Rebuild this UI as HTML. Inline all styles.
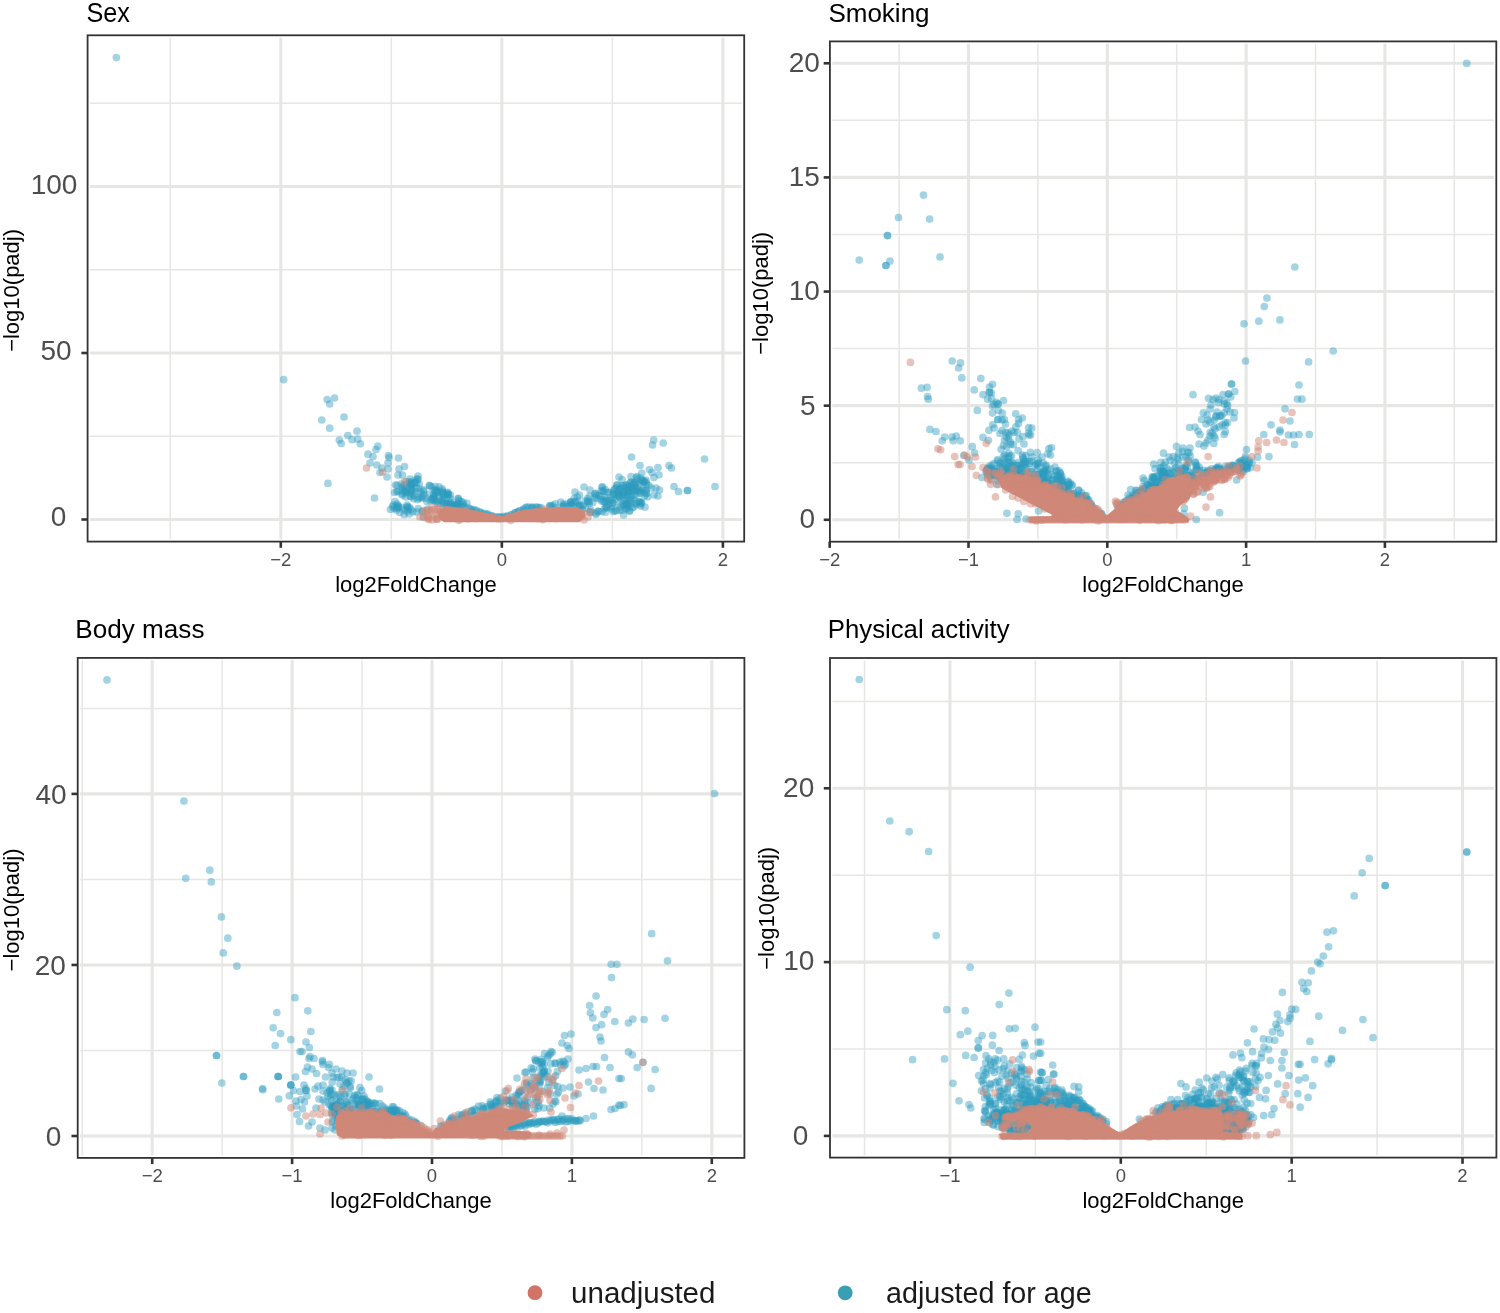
<!DOCTYPE html>
<html><head><meta charset="utf-8"><style>
html,body{margin:0;padding:0;background:#fff;}
svg{display:block;font-family:"Liberation Sans", sans-serif;will-change:transform;}
</style></head><body>
<svg width="1500" height="1313" viewBox="0 0 1500 1313">
<rect width="1500" height="1313" fill="#fff"/>
<clipPath id="cp1"><rect x="87.6" y="35.3" width="656.6" height="506.3"/></clipPath>
<clipPath id="gp1"><rect x="90.0" y="37.699999999999996" width="651.8000000000001" height="501.5"/></clipPath>
<g clip-path="url(#gp1)">
<line x1="170.27" y1="35.3" x2="170.27" y2="541.6" stroke="#e6e6e4" stroke-width="1.5"/>
<line x1="391.33" y1="35.3" x2="391.33" y2="541.6" stroke="#e6e6e4" stroke-width="1.5"/>
<line x1="612.38" y1="35.3" x2="612.38" y2="541.6" stroke="#e6e6e4" stroke-width="1.5"/>
<line x1="87.6" y1="436.25" x2="744.2" y2="436.25" stroke="#e6e6e4" stroke-width="1.5"/>
<line x1="87.6" y1="269.75" x2="744.2" y2="269.75" stroke="#e6e6e4" stroke-width="1.5"/>
<line x1="87.6" y1="103.25" x2="744.2" y2="103.25" stroke="#e6e6e4" stroke-width="1.5"/>
<line x1="280.80" y1="35.3" x2="280.80" y2="541.6" stroke="#e6e6e4" stroke-width="3.1"/>
<line x1="501.85" y1="35.3" x2="501.85" y2="541.6" stroke="#e6e6e4" stroke-width="3.1"/>
<line x1="722.90" y1="35.3" x2="722.90" y2="541.6" stroke="#e6e6e4" stroke-width="3.1"/>
<line x1="87.6" y1="519.50" x2="744.2" y2="519.50" stroke="#e6e6e4" stroke-width="3.1"/>
<line x1="87.6" y1="353.00" x2="744.2" y2="353.00" stroke="#e6e6e4" stroke-width="3.1"/>
<line x1="87.6" y1="186.50" x2="744.2" y2="186.50" stroke="#e6e6e4" stroke-width="3.1"/>
</g>
<g clip-path="url(#cp1)"><g fill="none" stroke="#2c9cbf" stroke-opacity="0.43" stroke-width="7.7" stroke-linecap="round"><path d="M429.5 494.4h0"/><path d="M433.6 495.2h0"/><path d="M409.7 492.9h0"/><path d="M442.6 501.6h0"/><path d="M403.0 486.4h0"/><path d="M444.4 496.1h0"/><path d="M410.1 484.5h0"/><path d="M398.2 491.4h0"/><path d="M434.4 496.8h0"/><path d="M433.0 497.5h0"/><path d="M429.8 485.6h0"/><path d="M458.2 498.9h0"/><path d="M419.3 484.1h0"/><path d="M417.4 479.2h0"/><path d="M466.9 503.3h0"/><path d="M402.4 487.3h0"/><path d="M404.7 484.6h0"/><path d="M437.4 490.9h0"/><path d="M405.7 497.0h0"/><path d="M404.6 490.0h0"/><path d="M411.8 485.4h0"/><path d="M411.6 489.2h0"/><path d="M411.8 485.0h0"/><path d="M417.9 479.3h0"/><path d="M402.7 495.1h0"/><path d="M414.0 495.6h0"/><path d="M423.5 491.0h0"/><path d="M409.5 481.8h0"/><path d="M463.2 502.4h0"/><path d="M414.5 482.9h0"/><path d="M413.6 498.8h0"/><path d="M401.1 484.1h0"/><path d="M437.4 503.4h0"/><path d="M397.2 485.3h0"/><path d="M409.0 488.4h0"/><path d="M447.2 495.1h0"/><path d="M431.7 499.6h0"/><path d="M401.6 493.9h0"/><path d="M450.5 504.9h0"/><path d="M450.5 498.8h0"/><path d="M454.7 505.4h0"/><path d="M422.0 498.2h0"/><path d="M462.7 504.0h0"/><path d="M426.9 501.5h0"/><path d="M442.2 488.9h0"/><path d="M439.1 495.9h0"/><path d="M450.4 495.0h0"/><path d="M447.7 492.4h0"/><path d="M418.3 498.0h0"/><path d="M411.0 482.3h0"/><path d="M420.2 497.6h0"/><path d="M410.7 490.4h0"/><path d="M455.6 505.3h0"/><path d="M439.1 486.8h0"/><path d="M406.1 492.4h0"/><path d="M457.9 503.3h0"/><path d="M416.5 482.2h0"/><path d="M429.3 485.5h0"/><path d="M411.8 489.8h0"/><path d="M442.3 492.3h0"/><path d="M448.4 494.7h0"/><path d="M442.6 490.8h0"/><path d="M442.6 497.3h0"/><path d="M455.7 506.7h0"/><path d="M396.8 491.6h0"/><path d="M416.2 487.7h0"/><path d="M447.6 493.1h0"/><path d="M441.5 500.4h0"/><path d="M405.6 491.1h0"/><path d="M423.9 494.6h0"/><path d="M461.1 501.7h0"/><path d="M449.4 502.4h0"/><path d="M443.5 499.2h0"/><path d="M435.7 501.5h0"/><path d="M402.1 490.7h0"/><path d="M436.7 500.8h0"/><path d="M406.4 481.6h0"/><path d="M434.2 499.4h0"/><path d="M458.2 498.4h0"/><path d="M412.4 493.3h0"/><path d="M417.5 499.6h0"/><path d="M443.3 493.2h0"/><path d="M419.1 488.8h0"/><path d="M458.5 504.9h0"/><path d="M435.7 492.6h0"/><path d="M437.7 492.2h0"/><path d="M435.9 489.8h0"/><path d="M415.9 491.7h0"/><path d="M405.4 490.4h0"/><path d="M456.4 504.9h0"/><path d="M431.3 486.8h0"/><path d="M410.2 496.2h0"/><path d="M410.4 484.0h0"/><path d="M422.3 496.2h0"/><path d="M405.1 492.8h0"/><path d="M414.5 483.1h0"/><path d="M435.2 490.5h0"/><path d="M423.8 489.8h0"/><path d="M411.1 496.6h0"/><path d="M443.2 493.4h0"/><path d="M450.8 502.1h0"/><path d="M415.2 480.0h0"/><path d="M425.8 498.2h0"/><path d="M446.5 505.3h0"/><path d="M433.4 500.5h0"/><path d="M433.2 498.3h0"/><path d="M410.0 479.2h0"/><path d="M436.8 493.0h0"/><path d="M409.7 483.3h0"/><path d="M430.2 500.7h0"/><path d="M420.2 491.5h0"/><path d="M434.1 490.3h0"/><path d="M447.9 503.2h0"/><path d="M412.9 511.8h0"/><path d="M392.5 506.7h0"/><path d="M404.1 514.6h0"/><path d="M422.4 510.8h0"/><path d="M416.6 511.9h0"/><path d="M398.4 507.9h0"/><path d="M406.8 507.3h0"/><path d="M397.0 507.6h0"/><path d="M397.9 505.6h0"/><path d="M409.6 507.5h0"/><path d="M418.2 508.6h0"/><path d="M424.0 517.4h0"/><path d="M407.7 506.5h0"/><path d="M422.4 512.1h0"/><path d="M397.0 504.2h0"/><path d="M408.0 509.2h0"/><path d="M427.6 509.0h0"/><path d="M410.9 509.3h0"/><path d="M401.8 507.7h0"/><path d="M409.1 513.9h0"/><path d="M396.5 509.9h0"/><path d="M399.8 512.5h0"/><path d="M393.6 505.0h0"/><path d="M407.1 511.5h0"/><path d="M394.3 508.3h0"/><path d="M631.0 482.2h0"/><path d="M641.3 502.6h0"/><path d="M629.0 486.9h0"/><path d="M635.4 484.7h0"/><path d="M644.6 495.9h0"/><path d="M594.7 493.8h0"/><path d="M618.7 490.0h0"/><path d="M624.5 491.8h0"/><path d="M590.4 512.6h0"/><path d="M627.7 504.0h0"/><path d="M598.6 495.3h0"/><path d="M641.9 479.9h0"/><path d="M611.7 508.8h0"/><path d="M618.0 491.7h0"/><path d="M646.3 489.8h0"/><path d="M637.4 488.4h0"/><path d="M643.1 489.1h0"/><path d="M613.5 490.7h0"/><path d="M631.4 487.2h0"/><path d="M646.0 482.2h0"/><path d="M614.0 494.8h0"/><path d="M582.4 508.9h0"/><path d="M619.0 494.0h0"/><path d="M634.0 499.1h0"/><path d="M627.9 486.0h0"/><path d="M602.0 501.3h0"/><path d="M605.3 489.5h0"/><path d="M622.5 503.5h0"/><path d="M620.9 488.2h0"/><path d="M603.1 491.1h0"/><path d="M596.0 514.5h0"/><path d="M601.8 511.6h0"/><path d="M627.3 488.3h0"/><path d="M600.9 499.6h0"/><path d="M628.5 489.3h0"/><path d="M640.0 504.4h0"/><path d="M585.8 508.6h0"/><path d="M619.5 489.1h0"/><path d="M642.4 481.0h0"/><path d="M631.1 497.4h0"/><path d="M612.9 511.4h0"/><path d="M606.4 506.7h0"/><path d="M589.2 501.6h0"/><path d="M638.4 501.6h0"/><path d="M619.7 497.5h0"/><path d="M632.1 490.4h0"/><path d="M594.8 497.7h0"/><path d="M616.2 494.2h0"/><path d="M589.3 503.6h0"/><path d="M634.1 489.2h0"/><path d="M625.7 491.9h0"/><path d="M628.2 506.6h0"/><path d="M585.1 501.2h0"/><path d="M592.8 502.4h0"/><path d="M635.2 504.1h0"/><path d="M616.5 510.5h0"/><path d="M640.3 478.2h0"/><path d="M608.1 492.4h0"/><path d="M641.2 490.5h0"/><path d="M619.0 495.6h0"/><path d="M612.5 494.5h0"/><path d="M611.7 499.3h0"/><path d="M609.1 492.5h0"/><path d="M595.8 512.9h0"/><path d="M642.7 482.6h0"/><path d="M622.1 493.9h0"/><path d="M611.4 506.8h0"/><path d="M606.1 507.4h0"/><path d="M607.2 500.8h0"/><path d="M632.6 482.5h0"/><path d="M646.7 493.6h0"/><path d="M619.1 496.3h0"/><path d="M632.8 495.7h0"/><path d="M625.4 503.1h0"/><path d="M627.1 488.6h0"/><path d="M640.1 493.5h0"/><path d="M590.7 509.8h0"/><path d="M642.9 480.7h0"/><path d="M641.7 502.8h0"/><path d="M597.4 498.4h0"/><path d="M644.4 481.9h0"/><path d="M625.5 485.4h0"/><path d="M635.0 491.4h0"/><path d="M608.8 500.0h0"/><path d="M636.6 503.3h0"/><path d="M611.8 500.5h0"/><path d="M607.0 507.6h0"/><path d="M640.6 506.2h0"/><path d="M601.2 490.9h0"/><path d="M626.4 484.9h0"/><path d="M627.8 503.4h0"/><path d="M596.1 495.3h0"/><path d="M589.6 496.3h0"/><path d="M618.3 496.7h0"/><path d="M633.6 506.8h0"/><path d="M629.3 500.3h0"/><path d="M636.4 477.6h0"/><path d="M633.3 484.7h0"/><path d="M603.4 491.4h0"/><path d="M615.4 499.0h0"/><path d="M620.2 488.3h0"/><path d="M604.0 501.6h0"/><path d="M645.1 490.9h0"/><path d="M623.8 492.3h0"/><path d="M606.0 499.5h0"/><path d="M635.8 490.0h0"/><path d="M637.1 479.5h0"/><path d="M620.2 506.9h0"/><path d="M612.7 502.9h0"/><path d="M627.0 495.8h0"/><path d="M639.1 501.6h0"/><path d="M635.5 483.2h0"/><path d="M598.4 511.4h0"/><path d="M632.4 507.7h0"/><path d="M595.6 493.3h0"/><path d="M632.2 491.5h0"/><path d="M623.5 500.4h0"/><path d="M605.3 512.2h0"/><path d="M626.1 504.9h0"/><path d="M630.7 500.2h0"/><path d="M590.2 511.7h0"/><path d="M645.9 480.0h0"/><path d="M587.5 498.6h0"/><path d="M612.7 503.1h0"/><path d="M587.8 501.2h0"/><path d="M625.5 508.5h0"/><path d="M639.4 490.3h0"/><path d="M618.4 504.3h0"/><path d="M625.4 499.3h0"/><path d="M627.6 493.1h0"/><path d="M619.7 510.3h0"/><path d="M626.7 508.7h0"/><path d="M598.0 511.3h0"/><path d="M630.6 502.9h0"/><path d="M608.4 504.3h0"/><path d="M624.2 505.4h0"/><path d="M601.0 496.2h0"/><path d="M629.0 494.0h0"/><path d="M629.0 491.1h0"/><path d="M579.5 495.2h0"/><path d="M604.6 508.6h0"/><path d="M621.9 485.6h0"/><path d="M605.0 497.1h0"/><path d="M613.9 492.6h0"/><path d="M616.0 488.1h0"/><path d="M646.5 484.6h0"/><path d="M604.6 501.7h0"/><path d="M638.4 491.8h0"/><path d="M623.7 485.9h0"/><path d="M582.9 505.7h0"/><path d="M615.1 511.1h0"/><path d="M635.9 487.7h0"/><path d="M587.6 502.1h0"/><path d="M622.5 510.2h0"/><path d="M540.9 507.6h0"/><path d="M571.4 504.5h0"/><path d="M580.6 506.7h0"/><path d="M570.5 502.6h0"/><path d="M573.3 502.1h0"/><path d="M577.5 501.9h0"/><path d="M570.8 501.6h0"/><path d="M560.7 502.2h0"/><path d="M579.4 506.1h0"/><path d="M563.0 506.5h0"/><path d="M577.5 497.0h0"/><path d="M555.9 507.9h0"/><path d="M552.5 505.4h0"/><path d="M550.9 506.8h0"/><path d="M575.2 501.3h0"/><path d="M563.7 506.6h0"/><path d="M574.3 498.3h0"/><path d="M563.8 505.3h0"/><path d="M571.3 505.3h0"/><path d="M566.5 504.0h0"/><path d="M579.6 504.8h0"/><path d="M573.5 507.0h0"/><path d="M563.5 504.1h0"/><path d="M555.3 503.8h0"/><path d="M570.9 502.4h0"/><path d="M578.2 505.4h0"/><path d="M569.9 505.9h0"/><path d="M550.0 505.7h0"/><path d="M531.4 508.3h0"/><path d="M549.6 506.1h0"/><path d="M440.2 503.4h0"/><path d="M443.1 504.2h0"/><path d="M444.3 503.3h0"/><path d="M447.0 504.4h0"/><path d="M448.1 504.6h0"/><path d="M450.1 505.1h0"/><path d="M451.5 504.5h0"/><path d="M454.8 505.2h0"/><path d="M455.5 506.1h0"/><path d="M458.2 505.5h0"/><path d="M460.0 506.7h0"/><path d="M461.2 506.9h0"/><path d="M463.0 506.7h0"/><path d="M464.9 506.8h0"/><path d="M468.6 508.1h0"/><path d="M470.5 508.8h0"/><path d="M471.7 509.9h0"/><path d="M473.7 509.5h0"/><path d="M475.4 510.9h0"/><path d="M476.5 510.4h0"/><path d="M479.8 512.2h0"/><path d="M480.4 512.4h0"/><path d="M482.3 513.6h0"/><path d="M484.6 513.3h0"/><path d="M487.1 514.2h0"/><path d="M487.9 514.4h0"/><path d="M490.7 515.5h0"/><path d="M492.1 515.9h0"/><path d="M493.9 517.3h0"/><path d="M495.8 517.0h0"/><path d="M497.5 517.1h0"/><path d="M499.5 516.8h0"/><path d="M501.1 517.1h0"/><path d="M503.6 517.8h0"/><path d="M504.0 516.4h0"/><path d="M507.0 516.2h0"/><path d="M507.5 516.3h0"/><path d="M511.1 514.8h0"/><path d="M511.8 514.8h0"/><path d="M514.6 513.1h0"/><path d="M515.2 512.7h0"/><path d="M517.5 512.0h0"/><path d="M518.6 511.4h0"/><path d="M519.9 510.6h0"/><path d="M523.2 509.4h0"/><path d="M523.8 509.7h0"/><path d="M525.6 507.7h0"/><path d="M526.8 507.0h0"/><path d="M529.0 507.2h0"/><path d="M532.2 507.2h0"/><path d="M532.9 507.7h0"/><path d="M536.0 507.2h0"/><path d="M537.6 507.3h0"/><path d="M539.2 507.7h0"/><path d="M116.4 57.6h0"/><path d="M283.7 379.7h0"/><path d="M327.2 399.5h0"/><path d="M334.5 398.0h0"/><path d="M329.7 404.0h0"/><path d="M344.0 417.0h0"/><path d="M321.8 420.0h0"/><path d="M329.7 428.2h0"/><path d="M357.0 431.2h0"/><path d="M347.8 435.5h0"/><path d="M339.3 440.0h0"/><path d="M341.2 443.5h0"/><path d="M352.0 439.7h0"/><path d="M357.7 439.2h0"/><path d="M360.3 443.8h0"/><path d="M377.8 446.2h0"/><path d="M376.0 449.5h0"/><path d="M368.0 454.2h0"/><path d="M373.0 456.5h0"/><path d="M388.5 455.5h0"/><path d="M389.0 457.5h0"/><path d="M398.5 458.0h0"/><path d="M370.0 463.0h0"/><path d="M376.8 465.0h0"/><path d="M388.0 463.0h0"/><path d="M404.5 466.5h0"/><path d="M399.0 469.0h0"/><path d="M382.0 468.0h0"/><path d="M388.0 469.0h0"/><path d="M380.0 472.5h0"/><path d="M387.0 477.0h0"/><path d="M398.0 475.0h0"/><path d="M402.5 475.0h0"/><path d="M418.0 476.0h0"/><path d="M395.5 485.0h0"/><path d="M394.5 492.5h0"/><path d="M374.5 498.0h0"/><path d="M395.0 501.5h0"/><path d="M398.5 506.5h0"/><path d="M390.5 509.5h0"/><path d="M404.0 510.0h0"/><path d="M407.0 505.0h0"/><path d="M435.0 486.5h0"/><path d="M459.0 500.5h0"/><path d="M448.0 494.5h0"/><path d="M327.9 483.4h0"/><path d="M653.7 440.0h0"/><path d="M652.5 445.0h0"/><path d="M663.2 443.0h0"/><path d="M631.5 457.0h0"/><path d="M704.5 459.0h0"/><path d="M640.0 465.5h0"/><path d="M658.0 467.5h0"/><path d="M649.5 469.5h0"/><path d="M669.0 465.5h0"/><path d="M671.5 468.0h0"/><path d="M641.8 473.0h0"/><path d="M659.0 474.8h0"/><path d="M654.0 477.5h0"/><path d="M652.0 472.5h0"/><path d="M631.0 476.5h0"/><path d="M637.0 476.5h0"/><path d="M622.0 479.5h0"/><path d="M617.0 485.0h0"/><path d="M615.0 488.5h0"/><path d="M630.0 483.0h0"/><path d="M634.5 482.5h0"/><path d="M640.5 483.0h0"/><path d="M644.0 481.5h0"/><path d="M649.0 485.5h0"/><path d="M656.0 488.0h0"/><path d="M659.5 490.0h0"/><path d="M651.5 488.0h0"/><path d="M634.0 489.0h0"/><path d="M635.0 495.0h0"/><path d="M640.0 493.0h0"/><path d="M646.0 493.0h0"/><path d="M647.5 497.0h0"/><path d="M654.0 495.0h0"/><path d="M658.0 496.0h0"/><path d="M674.0 486.5h0"/><path d="M678.5 491.5h0"/><path d="M687.5 490.5h0"/><path d="M687.5 490.5h0"/><path d="M715.0 486.5h0"/><path d="M640.5 502.5h0"/><path d="M645.0 507.0h0"/><path d="M629.5 511.0h0"/><path d="M629.5 511.0h0"/><path d="M623.5 515.0h0"/><path d="M602.5 487.0h0"/><path d="M626.0 505.0h0"/><path d="M623.0 496.0h0"/><path d="M625.0 495.0h0"/><path d="M575.0 492.0h0"/><path d="M584.0 487.0h0"/><path d="M590.0 490.0h0"/><path d="M602.0 487.0h0"/><path d="M617.0 485.0h0"/><path d="M619.0 477.0h0"/></g><path d="M437.1 511.5 L438.9 519.3 L444.2 522.2 L579.6 522.2 L585.0 517.5 L585.0 511.6 L577.7 507.2 L560.0 506.8 L540.1 508.0 L527.2 509.5 L513.3 512.5 L502.3 516.0 L502.2 516.0 L502.1 516.0 L502.0 516.0 L501.9 516.0 L501.8 516.0 L492.8 514.5 L492.8 514.5 L479.8 511.5 L459.8 508.0 L446.2 506.0 L437.1 511.5Z" fill="#cf8878" fill-opacity="1.0"/><g fill="none" stroke="#cf8878" stroke-opacity="0.5" stroke-width="7.7" stroke-linecap="round"><path d="M476.3 516.6h0"/><path d="M537.8 518.7h0"/><path d="M465.7 510.6h0"/><path d="M460.1 510.5h0"/><path d="M545.0 509.3h0"/><path d="M560.0 515.6h0"/><path d="M440.9 511.2h0"/><path d="M460.1 519.0h0"/><path d="M556.0 518.2h0"/><path d="M558.4 517.4h0"/><path d="M576.2 518.0h0"/><path d="M476.0 518.7h0"/><path d="M509.3 517.5h0"/><path d="M520.4 513.2h0"/><path d="M557.4 518.1h0"/><path d="M581.4 516.7h0"/><path d="M519.0 517.4h0"/><path d="M458.3 516.5h0"/><path d="M468.1 514.4h0"/><path d="M475.5 513.6h0"/><path d="M526.4 512.8h0"/><path d="M457.8 514.0h0"/><path d="M467.0 512.4h0"/><path d="M449.4 516.1h0"/><path d="M576.8 512.7h0"/><path d="M542.8 519.8h0"/><path d="M445.1 509.5h0"/><path d="M555.4 518.6h0"/><path d="M498.7 519.0h0"/><path d="M567.0 518.1h0"/><path d="M468.2 518.8h0"/><path d="M493.0 517.0h0"/><path d="M458.7 520.3h0"/><path d="M526.1 517.1h0"/><path d="M469.5 515.7h0"/><path d="M522.9 515.3h0"/><path d="M490.8 517.1h0"/><path d="M462.6 516.6h0"/><path d="M455.1 510.6h0"/><path d="M448.8 516.0h0"/><path d="M519.3 514.7h0"/><path d="M444.4 513.4h0"/><path d="M456.4 511.5h0"/><path d="M477.7 515.4h0"/><path d="M450.0 513.8h0"/><path d="M491.9 518.5h0"/><path d="M439.7 512.0h0"/><path d="M510.7 520.3h0"/><path d="M535.7 511.5h0"/><path d="M443.4 514.2h0"/><path d="M570.5 517.3h0"/><path d="M476.2 516.6h0"/><path d="M561.7 511.0h0"/><path d="M427.7 517.3h0"/><path d="M435.0 515.9h0"/><path d="M431.8 507.5h0"/><path d="M434.4 509.5h0"/><path d="M427.0 510.4h0"/><path d="M437.4 519.2h0"/><path d="M438.3 508.1h0"/><path d="M433.2 513.8h0"/><path d="M428.2 518.4h0"/><path d="M431.2 510.3h0"/><path d="M436.4 518.9h0"/><path d="M423.2 516.8h0"/><path d="M438.0 509.3h0"/><path d="M428.7 519.4h0"/><path d="M427.8 511.0h0"/><path d="M420.0 517.0h0"/><path d="M366.5 468.0h0"/><path d="M382.5 472.0h0"/><path d="M404.5 481.5h0"/><path d="M424.0 511.0h0"/><path d="M428.0 516.0h0"/><path d="M432.0 520.0h0"/><path d="M437.0 519.0h0"/><path d="M575.0 516.0h0"/><path d="M583.0 513.0h0"/><path d="M588.0 517.0h0"/><path d="M584.0 520.0h0"/><path d="M590.0 512.0h0"/></g></g>
<rect x="87.6" y="35.3" width="656.60" height="506.30" fill="none" stroke="#333333" stroke-width="1.8"/>
<line x1="280.80" y1="541.6" x2="280.80" y2="547.80" stroke="#333333" stroke-width="2.6"/>
<line x1="501.85" y1="541.6" x2="501.85" y2="547.80" stroke="#333333" stroke-width="2.6"/>
<line x1="722.90" y1="541.6" x2="722.90" y2="547.80" stroke="#333333" stroke-width="2.6"/>
<line x1="81.40" y1="519.50" x2="87.6" y2="519.50" stroke="#333333" stroke-width="2.6"/>
<line x1="81.40" y1="353.00" x2="87.6" y2="353.00" stroke="#333333" stroke-width="2.6"/>
<clipPath id="cp2"><rect x="829.9" y="41.4" width="666.4" height="500.30000000000007"/></clipPath>
<clipPath id="gp2"><rect x="832.3" y="43.8" width="661.6" height="495.50000000000006"/></clipPath>
<g clip-path="url(#gp2)">
<line x1="899.10" y1="41.4" x2="899.10" y2="541.7" stroke="#e6e6e4" stroke-width="1.5"/>
<line x1="1037.90" y1="41.4" x2="1037.90" y2="541.7" stroke="#e6e6e4" stroke-width="1.5"/>
<line x1="1176.70" y1="41.4" x2="1176.70" y2="541.7" stroke="#e6e6e4" stroke-width="1.5"/>
<line x1="1315.50" y1="41.4" x2="1315.50" y2="541.7" stroke="#e6e6e4" stroke-width="1.5"/>
<line x1="1454.30" y1="41.4" x2="1454.30" y2="541.7" stroke="#e6e6e4" stroke-width="1.5"/>
<line x1="829.9" y1="462.74" x2="1496.3" y2="462.74" stroke="#e6e6e4" stroke-width="1.5"/>
<line x1="829.9" y1="348.61" x2="1496.3" y2="348.61" stroke="#e6e6e4" stroke-width="1.5"/>
<line x1="829.9" y1="234.49" x2="1496.3" y2="234.49" stroke="#e6e6e4" stroke-width="1.5"/>
<line x1="829.9" y1="120.36" x2="1496.3" y2="120.36" stroke="#e6e6e4" stroke-width="1.5"/>
<line x1="829.70" y1="41.4" x2="829.70" y2="541.7" stroke="#e6e6e4" stroke-width="3.1"/>
<line x1="968.50" y1="41.4" x2="968.50" y2="541.7" stroke="#e6e6e4" stroke-width="3.1"/>
<line x1="1107.30" y1="41.4" x2="1107.30" y2="541.7" stroke="#e6e6e4" stroke-width="3.1"/>
<line x1="1246.10" y1="41.4" x2="1246.10" y2="541.7" stroke="#e6e6e4" stroke-width="3.1"/>
<line x1="1384.90" y1="41.4" x2="1384.90" y2="541.7" stroke="#e6e6e4" stroke-width="3.1"/>
<line x1="829.9" y1="519.80" x2="1496.3" y2="519.80" stroke="#e6e6e4" stroke-width="3.1"/>
<line x1="829.9" y1="405.67" x2="1496.3" y2="405.67" stroke="#e6e6e4" stroke-width="3.1"/>
<line x1="829.9" y1="291.55" x2="1496.3" y2="291.55" stroke="#e6e6e4" stroke-width="3.1"/>
<line x1="829.9" y1="177.42" x2="1496.3" y2="177.42" stroke="#e6e6e4" stroke-width="3.1"/>
<line x1="829.9" y1="63.30" x2="1496.3" y2="63.30" stroke="#e6e6e4" stroke-width="3.1"/>
</g>
<g clip-path="url(#cp2)"><g fill="none" stroke="#2c9cbf" stroke-opacity="0.43" stroke-width="7.7" stroke-linecap="round"><path d="M1061.2 482.1h0"/><path d="M1080.1 503.5h0"/><path d="M1045.6 466.3h0"/><path d="M1012.9 466.1h0"/><path d="M989.1 472.4h0"/><path d="M1039.4 486.9h0"/><path d="M1043.2 463.1h0"/><path d="M1075.6 500.6h0"/><path d="M1028.8 480.3h0"/><path d="M1044.5 483.0h0"/><path d="M1058.1 487.2h0"/><path d="M1006.7 462.1h0"/><path d="M1056.7 470.9h0"/><path d="M1067.0 494.9h0"/><path d="M1043.9 475.4h0"/><path d="M1016.0 469.8h0"/><path d="M1011.4 461.8h0"/><path d="M1077.9 502.4h0"/><path d="M990.0 476.3h0"/><path d="M1068.9 485.2h0"/><path d="M1031.7 477.1h0"/><path d="M990.9 479.2h0"/><path d="M1013.4 476.1h0"/><path d="M1068.9 495.4h0"/><path d="M985.8 471.3h0"/><path d="M1018.3 475.6h0"/><path d="M1041.0 479.4h0"/><path d="M1018.7 462.3h0"/><path d="M996.3 471.1h0"/><path d="M1057.8 491.3h0"/><path d="M1017.4 474.0h0"/><path d="M1007.8 468.5h0"/><path d="M1066.7 493.5h0"/><path d="M1072.3 485.1h0"/><path d="M989.9 473.9h0"/><path d="M1070.2 483.1h0"/><path d="M1098.0 511.9h0"/><path d="M1058.6 490.5h0"/><path d="M1078.1 499.1h0"/><path d="M1013.8 478.6h0"/><path d="M1077.5 499.8h0"/><path d="M1015.4 479.0h0"/><path d="M1081.3 498.9h0"/><path d="M1064.7 488.8h0"/><path d="M991.6 475.1h0"/><path d="M1045.0 481.0h0"/><path d="M1060.4 489.9h0"/><path d="M1088.8 499.8h0"/><path d="M1020.5 465.2h0"/><path d="M1029.2 463.6h0"/><path d="M1056.4 479.8h0"/><path d="M1061.3 492.3h0"/><path d="M1061.3 480.7h0"/><path d="M1024.4 465.0h0"/><path d="M998.9 477.3h0"/><path d="M1071.4 485.5h0"/><path d="M991.4 469.7h0"/><path d="M1038.1 466.1h0"/><path d="M1067.9 491.8h0"/><path d="M1051.8 474.6h0"/><path d="M1044.3 470.8h0"/><path d="M1036.1 464.0h0"/><path d="M1048.4 475.4h0"/><path d="M1068.0 482.2h0"/><path d="M1092.0 506.0h0"/><path d="M1005.1 476.7h0"/><path d="M1020.5 480.0h0"/><path d="M1034.6 476.5h0"/><path d="M998.9 473.7h0"/><path d="M1025.9 461.8h0"/><path d="M1022.0 467.4h0"/><path d="M1087.6 499.5h0"/><path d="M1014.3 471.9h0"/><path d="M1090.6 510.3h0"/><path d="M1081.5 498.0h0"/><path d="M1032.8 479.6h0"/><path d="M1004.1 477.7h0"/><path d="M1016.4 473.9h0"/><path d="M1009.3 466.6h0"/><path d="M1062.2 491.9h0"/><path d="M1068.6 484.2h0"/><path d="M1013.4 479.0h0"/><path d="M1067.1 494.9h0"/><path d="M986.8 470.0h0"/><path d="M992.2 474.6h0"/><path d="M1025.9 478.8h0"/><path d="M1013.1 463.1h0"/><path d="M1062.3 480.1h0"/><path d="M998.6 472.9h0"/><path d="M1044.8 471.7h0"/><path d="M1082.9 500.5h0"/><path d="M1080.3 497.0h0"/><path d="M995.8 468.8h0"/><path d="M1101.2 513.6h0"/><path d="M1034.9 465.8h0"/><path d="M1043.2 475.9h0"/><path d="M1029.9 482.1h0"/><path d="M1051.2 489.3h0"/><path d="M1015.1 482.6h0"/><path d="M1003.8 482.0h0"/><path d="M1002.3 467.9h0"/><path d="M1062.2 493.7h0"/><path d="M1020.8 476.1h0"/><path d="M1061.3 488.6h0"/><path d="M1057.7 488.3h0"/><path d="M1039.4 485.1h0"/><path d="M1047.3 479.3h0"/><path d="M993.0 472.7h0"/><path d="M1082.6 497.9h0"/><path d="M1058.2 475.5h0"/><path d="M1091.2 503.5h0"/><path d="M1006.2 474.2h0"/><path d="M1052.1 480.4h0"/><path d="M1061.5 480.8h0"/><path d="M1090.1 506.5h0"/><path d="M1071.7 493.8h0"/><path d="M1026.7 479.9h0"/><path d="M1057.0 480.0h0"/><path d="M1038.6 487.6h0"/><path d="M1037.1 469.5h0"/><path d="M993.6 474.7h0"/><path d="M1042.5 472.1h0"/><path d="M992.5 471.0h0"/><path d="M1038.4 474.8h0"/><path d="M1057.9 479.5h0"/><path d="M1038.1 459.8h0"/><path d="M1038.6 474.3h0"/><path d="M1019.7 468.5h0"/><path d="M1046.8 481.4h0"/><path d="M1011.6 455.3h0"/><path d="M1059.3 487.9h0"/><path d="M1014.9 474.0h0"/><path d="M1101.6 513.8h0"/><path d="M1075.3 501.7h0"/><path d="M1009.4 472.8h0"/><path d="M1025.2 461.2h0"/><path d="M1013.6 469.9h0"/><path d="M1090.8 504.8h0"/><path d="M1009.1 476.3h0"/><path d="M1003.6 479.9h0"/><path d="M1099.6 513.7h0"/><path d="M1057.6 495.0h0"/><path d="M987.5 468.4h0"/><path d="M1006.6 477.9h0"/><path d="M1035.7 480.3h0"/><path d="M1007.9 471.5h0"/><path d="M1039.5 482.3h0"/><path d="M1009.0 479.5h0"/><path d="M1023.9 479.8h0"/><path d="M1068.8 492.1h0"/><path d="M1004.2 477.0h0"/><path d="M1004.4 462.5h0"/><path d="M1018.4 472.9h0"/><path d="M1044.8 469.7h0"/><path d="M1022.2 482.6h0"/><path d="M1009.3 463.0h0"/><path d="M993.4 475.3h0"/><path d="M1061.0 477.7h0"/><path d="M1044.3 486.3h0"/><path d="M1028.2 483.8h0"/><path d="M1032.1 471.9h0"/><path d="M1081.6 505.5h0"/><path d="M1017.3 466.0h0"/><path d="M1055.1 485.1h0"/><path d="M995.4 475.1h0"/><path d="M1056.0 471.6h0"/><path d="M1062.6 485.8h0"/><path d="M1014.0 476.4h0"/><path d="M1039.0 463.1h0"/><path d="M1004.0 472.9h0"/><path d="M1054.3 475.8h0"/><path d="M1000.2 463.0h0"/><path d="M1085.1 499.9h0"/><path d="M1078.5 490.0h0"/><path d="M1044.5 482.2h0"/><path d="M1064.9 491.6h0"/><path d="M1035.0 480.9h0"/><path d="M1059.7 487.0h0"/><path d="M1031.8 461.1h0"/><path d="M1012.2 465.2h0"/><path d="M1005.6 468.6h0"/><path d="M1086.3 498.6h0"/><path d="M1025.5 474.9h0"/><path d="M1019.8 480.6h0"/><path d="M1078.4 496.0h0"/><path d="M997.7 474.3h0"/><path d="M1023.4 472.9h0"/><path d="M1021.8 483.1h0"/><path d="M1018.7 469.4h0"/><path d="M1049.7 490.7h0"/><path d="M989.5 471.6h0"/><path d="M1051.5 487.1h0"/><path d="M988.2 475.2h0"/><path d="M990.8 471.1h0"/><path d="M1000.4 463.3h0"/><path d="M1021.3 473.4h0"/><path d="M1030.0 479.0h0"/><path d="M1073.5 493.9h0"/><path d="M1053.5 490.8h0"/><path d="M1044.3 484.9h0"/><path d="M1050.0 484.3h0"/><path d="M1006.4 477.4h0"/><path d="M1078.7 495.6h0"/><path d="M1006.5 478.0h0"/><path d="M1085.3 495.9h0"/><path d="M1057.6 477.6h0"/><path d="M1057.7 487.2h0"/><path d="M1073.5 494.8h0"/><path d="M995.7 472.0h0"/><path d="M1027.4 483.5h0"/><path d="M1024.9 480.8h0"/><path d="M1037.5 485.6h0"/><path d="M1058.8 479.2h0"/><path d="M1068.1 485.3h0"/><path d="M1020.3 481.6h0"/><path d="M1044.5 489.8h0"/><path d="M998.0 461.1h0"/><path d="M1005.9 469.4h0"/><path d="M988.2 471.6h0"/><path d="M1023.0 483.2h0"/><path d="M1014.5 474.6h0"/><path d="M987.2 473.5h0"/><path d="M1062.6 484.1h0"/><path d="M1008.1 477.8h0"/><path d="M1040.5 473.0h0"/><path d="M1049.1 483.4h0"/><path d="M1007.8 475.5h0"/><path d="M1042.8 473.4h0"/><path d="M1041.1 487.4h0"/><path d="M1032.8 479.2h0"/><path d="M998.1 480.9h0"/><path d="M987.0 470.0h0"/><path d="M1066.1 492.4h0"/><path d="M1081.5 502.3h0"/><path d="M1040.6 476.0h0"/><path d="M1086.2 495.5h0"/><path d="M1078.7 490.7h0"/><path d="M1066.8 491.1h0"/><path d="M1019.8 478.1h0"/><path d="M1006.0 470.1h0"/><path d="M1061.4 492.1h0"/><path d="M1009.7 456.2h0"/><path d="M1042.8 472.8h0"/><path d="M1065.5 487.0h0"/><path d="M1000.9 478.2h0"/><path d="M1060.9 492.4h0"/><path d="M1022.9 474.3h0"/><path d="M991.7 465.2h0"/><path d="M1011.4 478.7h0"/><path d="M998.2 475.2h0"/><path d="M1084.7 500.3h0"/><path d="M1009.8 474.2h0"/><path d="M1054.1 489.3h0"/><path d="M1059.7 477.0h0"/><path d="M1051.6 483.5h0"/><path d="M999.2 475.9h0"/><path d="M1022.4 455.2h0"/><path d="M1047.7 469.6h0"/><path d="M1061.9 476.2h0"/><path d="M1050.2 468.7h0"/><path d="M1012.2 473.1h0"/><path d="M1019.9 476.7h0"/><path d="M999.1 474.9h0"/><path d="M1045.7 484.7h0"/><path d="M1075.0 498.9h0"/><path d="M1027.8 478.3h0"/><path d="M1051.6 486.8h0"/><path d="M1093.8 509.0h0"/><path d="M991.7 468.2h0"/><path d="M1027.8 472.7h0"/><path d="M1052.4 480.0h0"/><path d="M1060.3 473.7h0"/><path d="M1067.5 496.1h0"/><path d="M1059.2 485.0h0"/><path d="M1066.5 492.9h0"/><path d="M1004.6 458.7h0"/><path d="M1092.2 508.4h0"/><path d="M1007.3 469.6h0"/><path d="M1074.1 492.8h0"/><path d="M1011.7 483.0h0"/><path d="M996.0 471.4h0"/><path d="M1059.4 489.2h0"/><path d="M1046.6 472.3h0"/><path d="M1027.7 468.6h0"/><path d="M1016.6 477.6h0"/><path d="M1025.8 455.6h0"/><path d="M1022.8 457.0h0"/><path d="M1041.1 488.3h0"/><path d="M1033.1 484.4h0"/><path d="M1044.2 474.1h0"/><path d="M1022.5 477.4h0"/><path d="M1023.7 459.1h0"/><path d="M1030.8 471.8h0"/><path d="M1087.9 501.8h0"/><path d="M1061.6 490.3h0"/><path d="M1020.6 468.5h0"/><path d="M1011.3 476.8h0"/><path d="M1038.2 483.5h0"/><path d="M1001.5 475.2h0"/><path d="M1045.0 480.6h0"/><path d="M989.3 468.5h0"/><path d="M1077.2 500.8h0"/><path d="M1033.8 474.0h0"/><path d="M1047.2 485.5h0"/><path d="M1032.4 477.6h0"/><path d="M1069.6 498.5h0"/><path d="M1082.2 495.5h0"/><path d="M999.8 466.6h0"/><path d="M1066.3 485.7h0"/><path d="M1028.9 483.0h0"/><path d="M1038.9 484.2h0"/><path d="M1037.7 463.5h0"/><path d="M1028.0 476.9h0"/><path d="M1033.2 477.1h0"/><path d="M1068.0 489.9h0"/><path d="M1067.9 481.3h0"/><path d="M1011.3 471.3h0"/><path d="M1081.5 492.6h0"/><path d="M988.2 468.3h0"/><path d="M1011.3 479.8h0"/><path d="M1060.3 473.0h0"/><path d="M1072.8 497.0h0"/><path d="M1059.2 470.9h0"/><path d="M1031.9 480.3h0"/><path d="M1054.3 491.8h0"/><path d="M1048.6 478.9h0"/><path d="M1012.5 478.9h0"/><path d="M1030.6 479.3h0"/><path d="M1043.1 481.7h0"/><path d="M1162.6 477.6h0"/><path d="M1170.4 460.6h0"/><path d="M1173.4 479.1h0"/><path d="M1200.7 476.9h0"/><path d="M1143.0 486.7h0"/><path d="M1175.7 467.5h0"/><path d="M1163.9 465.7h0"/><path d="M1122.6 504.7h0"/><path d="M1135.4 497.7h0"/><path d="M1153.3 477.1h0"/><path d="M1225.7 466.3h0"/><path d="M1232.9 465.9h0"/><path d="M1162.7 479.6h0"/><path d="M1221.6 471.0h0"/><path d="M1238.3 468.1h0"/><path d="M1207.3 472.6h0"/><path d="M1177.2 457.4h0"/><path d="M1215.8 469.7h0"/><path d="M1160.6 478.0h0"/><path d="M1244.8 464.7h0"/><path d="M1186.2 478.7h0"/><path d="M1232.3 465.1h0"/><path d="M1132.9 495.3h0"/><path d="M1188.9 452.7h0"/><path d="M1150.6 491.5h0"/><path d="M1212.9 473.4h0"/><path d="M1189.9 477.6h0"/><path d="M1195.6 469.9h0"/><path d="M1128.0 495.0h0"/><path d="M1240.4 461.0h0"/><path d="M1248.6 463.3h0"/><path d="M1152.3 488.1h0"/><path d="M1211.9 473.9h0"/><path d="M1230.6 471.3h0"/><path d="M1156.5 483.3h0"/><path d="M1154.8 486.6h0"/><path d="M1200.6 479.2h0"/><path d="M1162.1 473.6h0"/><path d="M1169.0 457.1h0"/><path d="M1175.8 471.2h0"/><path d="M1242.5 466.4h0"/><path d="M1182.2 475.3h0"/><path d="M1170.2 473.6h0"/><path d="M1152.7 481.7h0"/><path d="M1135.7 493.7h0"/><path d="M1137.6 492.8h0"/><path d="M1210.2 472.1h0"/><path d="M1160.4 471.7h0"/><path d="M1160.8 462.4h0"/><path d="M1217.0 470.6h0"/><path d="M1244.2 464.2h0"/><path d="M1217.5 468.7h0"/><path d="M1179.7 471.9h0"/><path d="M1152.7 485.9h0"/><path d="M1128.9 501.3h0"/><path d="M1243.9 469.1h0"/><path d="M1188.0 480.5h0"/><path d="M1139.4 493.0h0"/><path d="M1188.4 460.0h0"/><path d="M1179.2 470.9h0"/><path d="M1165.5 483.9h0"/><path d="M1189.0 462.5h0"/><path d="M1125.3 501.2h0"/><path d="M1145.5 494.3h0"/><path d="M1129.6 497.1h0"/><path d="M1153.7 477.9h0"/><path d="M1180.0 473.8h0"/><path d="M1157.6 486.9h0"/><path d="M1219.1 472.6h0"/><path d="M1235.8 469.3h0"/><path d="M1179.6 470.4h0"/><path d="M1203.6 477.0h0"/><path d="M1160.8 470.9h0"/><path d="M1132.0 497.9h0"/><path d="M1218.9 469.4h0"/><path d="M1165.2 462.3h0"/><path d="M1189.2 477.7h0"/><path d="M1157.4 476.0h0"/><path d="M1161.1 468.2h0"/><path d="M1162.7 471.6h0"/><path d="M1180.8 474.5h0"/><path d="M1229.5 467.4h0"/><path d="M1190.6 477.5h0"/><path d="M1145.5 488.2h0"/><path d="M1135.2 495.9h0"/><path d="M1221.0 471.6h0"/><path d="M1185.8 456.5h0"/><path d="M1144.6 488.4h0"/><path d="M1192.3 474.6h0"/><path d="M1153.0 477.6h0"/><path d="M1240.4 468.3h0"/><path d="M1144.3 480.4h0"/><path d="M1238.4 462.5h0"/><path d="M1207.5 471.9h0"/><path d="M1151.0 482.4h0"/><path d="M1219.4 470.0h0"/><path d="M1152.1 476.8h0"/><path d="M1178.7 453.0h0"/><path d="M1244.7 467.0h0"/><path d="M1166.8 468.2h0"/><path d="M1211.0 471.4h0"/><path d="M1190.3 456.2h0"/><path d="M1249.3 460.3h0"/><path d="M1194.8 475.9h0"/><path d="M1167.0 478.4h0"/><path d="M1142.1 495.6h0"/><path d="M1136.9 495.0h0"/><path d="M1167.8 473.1h0"/><path d="M1216.1 468.1h0"/><path d="M1167.1 476.8h0"/><path d="M1214.0 475.7h0"/><path d="M1173.9 477.9h0"/><path d="M1173.2 456.6h0"/><path d="M1178.4 464.0h0"/><path d="M1142.9 492.9h0"/><path d="M1195.2 480.5h0"/><path d="M1156.2 487.0h0"/><path d="M1163.0 484.0h0"/><path d="M1174.4 463.4h0"/><path d="M1163.3 482.4h0"/><path d="M1158.6 482.6h0"/><path d="M1166.7 476.9h0"/><path d="M1189.3 476.3h0"/><path d="M1196.1 466.2h0"/><path d="M1178.0 459.5h0"/><path d="M1220.4 470.1h0"/><path d="M1187.4 475.7h0"/><path d="M1221.1 471.8h0"/><path d="M1144.6 495.0h0"/><path d="M1195.4 462.1h0"/><path d="M1197.0 469.3h0"/><path d="M1201.7 478.0h0"/><path d="M1196.9 469.6h0"/><path d="M1218.7 466.6h0"/><path d="M1199.5 470.4h0"/><path d="M1160.0 467.9h0"/><path d="M1173.8 470.0h0"/><path d="M1173.2 477.3h0"/><path d="M1210.2 473.5h0"/><path d="M1195.2 462.8h0"/><path d="M1216.9 467.9h0"/><path d="M1148.7 491.2h0"/><path d="M1149.5 485.5h0"/><path d="M1232.2 468.5h0"/><path d="M1151.7 486.0h0"/><path d="M1240.1 470.5h0"/><path d="M1181.6 468.5h0"/><path d="M1196.7 465.4h0"/><path d="M1199.3 467.3h0"/><path d="M1141.5 490.0h0"/><path d="M1138.5 492.4h0"/><path d="M1149.8 489.6h0"/><path d="M1176.1 477.4h0"/><path d="M1176.2 478.7h0"/><path d="M1135.8 490.4h0"/><path d="M1132.8 497.2h0"/><path d="M1219.2 468.2h0"/><path d="M1155.1 468.6h0"/><path d="M1185.6 470.2h0"/><path d="M1228.3 468.5h0"/><path d="M1184.8 468.1h0"/><path d="M1191.4 476.1h0"/><path d="M1210.2 471.5h0"/><path d="M1156.1 482.5h0"/><path d="M1185.8 465.4h0"/><path d="M1174.8 476.8h0"/><path d="M1144.1 492.9h0"/><path d="M1232.8 465.9h0"/><path d="M1228.9 470.7h0"/><path d="M1203.0 475.7h0"/><path d="M1235.2 467.4h0"/><path d="M1151.1 481.2h0"/><path d="M1164.4 473.7h0"/><path d="M1165.0 478.0h0"/><path d="M1239.7 462.3h0"/><path d="M1214.8 470.0h0"/><path d="M1128.7 499.4h0"/><path d="M1182.9 457.2h0"/><path d="M1161.2 481.0h0"/><path d="M1214.4 473.6h0"/><path d="M1165.7 482.3h0"/><path d="M1219.6 473.7h0"/><path d="M1169.1 470.4h0"/><path d="M1184.3 470.0h0"/><path d="M1154.7 478.4h0"/><path d="M1211.9 471.4h0"/><path d="M1136.7 490.7h0"/><path d="M1188.5 481.0h0"/><path d="M1241.1 462.9h0"/><path d="M1193.8 478.4h0"/><path d="M1146.9 484.6h0"/><path d="M1167.0 474.0h0"/><path d="M1157.3 487.5h0"/><path d="M1244.8 459.2h0"/><path d="M1156.3 476.0h0"/><path d="M1164.1 474.7h0"/><path d="M1242.5 460.3h0"/><path d="M1184.6 476.9h0"/><path d="M1209.6 473.5h0"/><path d="M1211.3 468.8h0"/><path d="M1187.6 452.3h0"/><path d="M1159.5 482.5h0"/><path d="M1162.1 476.3h0"/><path d="M1243.1 471.7h0"/><path d="M1151.0 485.8h0"/><path d="M1218.4 470.4h0"/><path d="M1221.1 473.0h0"/><path d="M1204.6 472.6h0"/><path d="M1169.1 482.2h0"/><path d="M1208.5 472.1h0"/><path d="M1231.4 470.1h0"/><path d="M1165.8 482.2h0"/><path d="M1208.0 470.4h0"/><path d="M1142.3 490.2h0"/><path d="M1215.6 470.0h0"/><path d="M1162.5 480.8h0"/><path d="M1204.8 474.2h0"/><path d="M1247.3 468.4h0"/><path d="M1129.3 501.9h0"/><path d="M1222.8 469.4h0"/><path d="M1239.6 470.3h0"/><path d="M1246.8 466.2h0"/><path d="M1228.5 467.2h0"/><path d="M1142.7 493.9h0"/><path d="M1149.1 486.7h0"/><path d="M1117.6 506.1h0"/><path d="M1163.3 472.0h0"/><path d="M1150.7 488.1h0"/><path d="M1121.0 504.9h0"/><path d="M1181.0 471.1h0"/><path d="M1147.7 484.8h0"/><path d="M1132.1 499.5h0"/><path d="M1246.6 468.9h0"/><path d="M1164.7 478.7h0"/><path d="M1188.8 471.6h0"/><path d="M1187.5 475.5h0"/><path d="M1250.3 467.7h0"/><path d="M1163.4 471.8h0"/><path d="M1165.5 484.2h0"/><path d="M1194.7 478.5h0"/><path d="M1155.0 484.6h0"/><path d="M1182.4 451.4h0"/><path d="M1201.2 476.8h0"/><path d="M1245.4 456.6h0"/><path d="M1192.5 472.8h0"/><path d="M1141.3 491.9h0"/><path d="M1203.6 470.3h0"/><path d="M1187.0 466.6h0"/><path d="M1122.4 502.8h0"/><path d="M1231.6 469.4h0"/><path d="M1126.2 501.4h0"/><path d="M1173.5 472.4h0"/><path d="M1141.0 494.2h0"/><path d="M1185.1 467.6h0"/><path d="M1249.2 462.2h0"/><path d="M1247.2 466.5h0"/><path d="M991.3 393.0h0"/><path d="M1023.2 462.2h0"/><path d="M1029.6 461.5h0"/><path d="M1048.9 448.7h0"/><path d="M1030.6 434.9h0"/><path d="M1001.1 449.3h0"/><path d="M1015.9 426.8h0"/><path d="M1008.5 439.1h0"/><path d="M1005.8 432.4h0"/><path d="M1000.0 433.5h0"/><path d="M1018.7 419.7h0"/><path d="M1028.7 427.7h0"/><path d="M1004.4 419.5h0"/><path d="M1008.0 462.0h0"/><path d="M1002.3 413.2h0"/><path d="M1018.2 450.6h0"/><path d="M1008.6 453.3h0"/><path d="M1017.3 432.5h0"/><path d="M1013.4 444.7h0"/><path d="M1037.2 452.6h0"/><path d="M1023.7 463.1h0"/><path d="M993.8 404.4h0"/><path d="M1003.5 445.4h0"/><path d="M1047.9 453.8h0"/><path d="M992.8 424.5h0"/><path d="M1006.5 446.7h0"/><path d="M996.3 402.4h0"/><path d="M1025.5 466.8h0"/><path d="M1003.4 456.4h0"/><path d="M1006.3 437.3h0"/><path d="M1004.9 455.1h0"/><path d="M1030.5 452.4h0"/><path d="M1008.2 457.3h0"/><path d="M989.6 387.0h0"/><path d="M1016.8 465.4h0"/><path d="M988.9 430.3h0"/><path d="M1230.7 396.9h0"/><path d="M1216.0 415.9h0"/><path d="M1213.0 399.5h0"/><path d="M1221.8 415.7h0"/><path d="M1212.2 433.2h0"/><path d="M1225.3 425.1h0"/><path d="M1219.2 426.9h0"/><path d="M1234.5 412.5h0"/><path d="M1224.2 412.8h0"/><path d="M1215.1 429.1h0"/><path d="M1210.3 432.3h0"/><path d="M1216.0 417.2h0"/><path d="M1218.5 402.4h0"/><path d="M1226.9 403.1h0"/><path d="M1215.1 438.0h0"/><path d="M1203.3 412.8h0"/><path d="M1225.1 422.8h0"/><path d="M1225.4 431.7h0"/><path d="M1227.6 405.5h0"/><path d="M1213.8 443.5h0"/><path d="M1466.7 63.4h0"/><path d="M1294.8 267.0h0"/><path d="M923.5 195.1h0"/><path d="M898.5 217.5h0"/><path d="M929.6 219.1h0"/><path d="M887.5 235.6h0"/><path d="M859.2 260.1h0"/><path d="M889.9 261.2h0"/><path d="M885.9 265.5h0"/><path d="M940.0 256.9h0"/><path d="M952.2 361.0h0"/><path d="M960.5 362.9h0"/><path d="M958.6 368.0h0"/><path d="M961.8 377.9h0"/><path d="M980.8 378.4h0"/><path d="M992.5 384.3h0"/><path d="M921.4 388.2h0"/><path d="M927.1 387.3h0"/><path d="M927.5 396.5h0"/><path d="M928.3 399.2h0"/><path d="M974.2 389.9h0"/><path d="M983.0 394.7h0"/><path d="M989.3 392.3h0"/><path d="M987.7 399.2h0"/><path d="M991.5 398.7h0"/><path d="M977.3 410.4h0"/><path d="M992.5 406.1h0"/><path d="M997.9 404.0h0"/><path d="M992.5 413.1h0"/><path d="M997.9 419.5h0"/><path d="M994.1 428.0h0"/><path d="M929.9 429.4h0"/><path d="M936.0 431.5h0"/><path d="M944.7 437.1h0"/><path d="M942.2 440.8h0"/><path d="M952.0 437.1h0"/><path d="M956.3 436.0h0"/><path d="M953.1 440.8h0"/><path d="M960.3 440.8h0"/><path d="M982.9 437.3h0"/><path d="M988.3 440.3h0"/><path d="M972.3 446.7h0"/><path d="M1003.5 400.5h0"/><path d="M998.5 410.5h0"/><path d="M1015.7 413.8h0"/><path d="M1022.2 418.0h0"/><path d="M1018.5 423.5h0"/><path d="M1002.0 420.0h0"/><path d="M1005.5 424.0h0"/><path d="M1002.0 430.5h0"/><path d="M1008.0 433.0h0"/><path d="M1012.0 431.0h0"/><path d="M1009.0 435.0h0"/><path d="M1014.0 432.5h0"/><path d="M1004.5 440.0h0"/><path d="M1010.5 442.0h0"/><path d="M1010.5 444.5h0"/><path d="M1019.0 439.0h0"/><path d="M1024.0 444.0h0"/><path d="M1023.0 436.5h0"/><path d="M1029.0 435.0h0"/><path d="M1028.5 433.0h0"/><path d="M1031.8 428.0h0"/><path d="M974.5 453.0h0"/><path d="M969.0 460.0h0"/><path d="M997.5 459.5h0"/><path d="M994.0 463.5h0"/><path d="M989.0 466.5h0"/><path d="M1002.5 466.5h0"/><path d="M1051.5 447.8h0"/><path d="M1050.5 455.0h0"/><path d="M1042.0 457.0h0"/><path d="M1032.0 457.0h0"/><path d="M1046.0 465.0h0"/><path d="M1055.0 467.0h0"/><path d="M1006.9 513.3h0"/><path d="M1018.2 513.9h0"/><path d="M1017.1 519.5h0"/><path d="M1026.1 519.0h0"/><path d="M1038.6 511.0h0"/><path d="M981.9 477.6h0"/><path d="M963.8 455.5h0"/><path d="M996.7 484.4h0"/><path d="M1224.1 434.5h0"/><path d="M1263.8 434.5h0"/><path d="M1268.9 456.6h0"/><path d="M1257.5 457.2h0"/><path d="M1251.9 462.9h0"/><path d="M1219.6 512.7h0"/><path d="M1196.3 519.5h0"/><path d="M1184.4 508.2h0"/><path d="M1183.9 513.9h0"/><path d="M1203.1 492.3h0"/><path d="M1236.6 479.9h0"/><path d="M1176.5 446.4h0"/><path d="M1163.5 453.2h0"/><path d="M1153.8 464.0h0"/><path d="M1143.1 478.2h0"/><path d="M1130.6 489.5h0"/><path d="M1245.5 361.0h0"/><path d="M1231.5 384.0h0"/><path d="M1234.8 391.5h0"/><path d="M1228.5 394.0h0"/><path d="M1223.0 394.5h0"/><path d="M1193.0 394.7h0"/><path d="M1208.5 398.3h0"/><path d="M1216.0 398.0h0"/><path d="M1219.0 399.5h0"/><path d="M1224.0 401.0h0"/><path d="M1224.5 404.0h0"/><path d="M1211.0 405.0h0"/><path d="M1210.0 409.0h0"/><path d="M1227.0 409.0h0"/><path d="M1230.0 412.0h0"/><path d="M1234.0 418.0h0"/><path d="M1217.0 412.0h0"/><path d="M1220.0 416.0h0"/><path d="M1207.0 415.0h0"/><path d="M1208.0 420.0h0"/><path d="M1206.0 424.0h0"/><path d="M1210.0 422.0h0"/><path d="M1214.0 420.0h0"/><path d="M1201.5 419.5h0"/><path d="M1227.5 422.5h0"/><path d="M1222.0 425.0h0"/><path d="M1214.0 427.0h0"/><path d="M1189.5 427.5h0"/><path d="M1195.0 427.0h0"/><path d="M1198.0 431.0h0"/><path d="M1200.0 434.5h0"/><path d="M1210.0 436.0h0"/><path d="M1214.0 436.0h0"/><path d="M1208.0 440.0h0"/><path d="M1206.0 443.0h0"/><path d="M1204.0 446.0h0"/><path d="M1199.0 444.0h0"/><path d="M1183.0 448.0h0"/><path d="M1190.0 448.0h0"/><path d="M1285.0 408.8h0"/><path d="M1290.0 421.0h0"/><path d="M1271.0 424.8h0"/><path d="M1280.0 430.0h0"/><path d="M1288.5 435.0h0"/><path d="M1293.5 435.0h0"/><path d="M1299.0 434.5h0"/><path d="M1294.5 444.5h0"/><path d="M1299.0 385.0h0"/><path d="M1297.5 399.0h0"/><path d="M1301.9 399.2h0"/><path d="M1246.5 449.5h0"/><path d="M1266.9 298.1h0"/><path d="M1264.3 306.6h0"/><path d="M1244.0 323.8h0"/><path d="M1258.8 321.2h0"/><path d="M1279.9 319.9h0"/><path d="M1308.6 361.9h0"/><path d="M1309.3 434.4h0"/><path d="M1333.2 351.0h0"/><path d="M887.5 235.6h0"/><path d="M885.9 265.5h0"/><path d="M989.3 392.3h0"/><path d="M997.9 404.0h0"/><path d="M997.9 419.5h0"/><path d="M1231.5 384.0h0"/><path d="M1228.5 394.0h0"/><path d="M1220.0 416.0h0"/><path d="M1280.0 432.0h0"/></g><path d="M999.2 480.6 L1000.9 487.4 L1006.5 491.1 L1022.4 499.1 L1022.5 499.1 L1046.5 511.9 L1051.2 514.3 L1051.3 514.4 L1051.4 514.4 L1051.5 514.5 L1051.6 514.5 L1051.6 514.6 L1051.7 514.7 L1051.7 514.8 L1051.7 514.9 L1051.8 515.0 L1051.8 515.1 L1051.8 515.2 L1051.8 515.3 L1051.8 515.4 L1051.8 515.5 L1051.7 515.6 L1051.7 515.6 L1051.6 515.7 L1051.6 515.8 L1051.5 515.9 L1051.5 516.0 L1051.4 516.0 L1051.3 516.1 L1051.2 516.1 L1051.1 516.1 L1051.0 516.2 L1050.9 516.2 L1050.8 516.2 L1029.0 517.0 L1029.0 522.5 L1188.4 522.5 L1189.8 519.3 L1184.4 514.8 L1177.5 510.9 L1177.4 510.8 L1177.3 510.8 L1177.3 510.7 L1177.2 510.6 L1177.2 510.5 L1177.1 510.5 L1177.1 510.4 L1177.0 510.3 L1177.0 510.2 L1177.0 510.1 L1177.0 510.0 L1177.0 509.9 L1177.0 509.8 L1177.0 509.7 L1177.1 509.6 L1177.1 509.5 L1177.2 509.5 L1177.2 509.4 L1181.2 504.4 L1181.3 504.3 L1181.4 504.2 L1181.5 504.2 L1189.2 499.3 L1194.0 489.7 L1194.9 482.6 L1189.6 479.9 L1189.5 479.8 L1189.4 479.8 L1184.6 476.0 L1178.2 476.0 L1150.5 489.9 L1140.5 495.9 L1140.4 495.9 L1140.4 495.9 L1120.5 503.9 L1107.6 514.8 L1107.6 514.8 L1107.5 514.9 L1107.4 514.9 L1107.3 514.9 L1107.2 515.0 L1107.1 515.0 L1107.0 515.0 L1106.9 515.0 L1106.8 515.0 L1106.8 515.0 L1106.7 514.9 L1106.6 514.9 L1106.5 514.9 L1106.4 514.8 L1097.4 508.3 L1085.6 500.4 L1069.7 495.5 L1069.6 495.4 L1061.6 491.9 L1045.7 486.4 L1045.6 486.4 L1025.8 477.0 L1006.2 478.0 L999.2 480.6Z" fill="#cf8878" fill-opacity="1.0"/><g fill="none" stroke="#cf8878" stroke-opacity="0.5" stroke-width="7.7" stroke-linecap="round"><path d="M1138.0 514.0h0"/><path d="M1036.1 520.9h0"/><path d="M1140.3 510.8h0"/><path d="M1085.9 515.2h0"/><path d="M1191.0 482.5h0"/><path d="M1100.4 519.2h0"/><path d="M1143.1 496.8h0"/><path d="M1059.6 519.0h0"/><path d="M1172.9 517.7h0"/><path d="M1061.8 516.4h0"/><path d="M1014.4 481.7h0"/><path d="M1128.9 512.3h0"/><path d="M1158.5 520.7h0"/><path d="M1166.3 489.1h0"/><path d="M1143.8 517.7h0"/><path d="M1030.6 483.7h0"/><path d="M1188.3 483.2h0"/><path d="M1098.2 520.9h0"/><path d="M1148.1 500.6h0"/><path d="M1047.6 504.9h0"/><path d="M1051.2 505.5h0"/><path d="M1153.8 495.1h0"/><path d="M1091.1 513.7h0"/><path d="M1169.1 488.3h0"/><path d="M1087.3 510.7h0"/><path d="M1137.8 512.8h0"/><path d="M1043.4 490.7h0"/><path d="M1057.5 492.1h0"/><path d="M1175.4 512.2h0"/><path d="M1051.4 501.1h0"/><path d="M1122.7 516.9h0"/><path d="M1052.4 494.1h0"/><path d="M1163.5 500.5h0"/><path d="M1173.9 486.8h0"/><path d="M1036.1 483.6h0"/><path d="M1154.5 499.1h0"/><path d="M1161.1 492.3h0"/><path d="M1055.2 515.4h0"/><path d="M1045.6 504.5h0"/><path d="M1048.9 490.9h0"/><path d="M1144.8 504.0h0"/><path d="M1182.9 487.8h0"/><path d="M1042.1 520.2h0"/><path d="M1066.5 510.5h0"/><path d="M1009.9 485.0h0"/><path d="M1158.1 509.4h0"/><path d="M1044.5 487.7h0"/><path d="M1060.1 507.0h0"/><path d="M1182.8 501.5h0"/><path d="M1181.7 488.0h0"/><path d="M1180.2 493.4h0"/><path d="M1184.2 499.6h0"/><path d="M1086.4 517.7h0"/><path d="M1059.1 511.6h0"/><path d="M1161.0 502.9h0"/><path d="M1136.3 507.4h0"/><path d="M1171.3 500.0h0"/><path d="M1118.5 508.3h0"/><path d="M1031.1 500.1h0"/><path d="M1087.2 515.3h0"/><path d="M1172.4 480.8h0"/><path d="M1185.6 498.6h0"/><path d="M1162.9 492.7h0"/><path d="M1035.4 503.8h0"/><path d="M1148.3 519.3h0"/><path d="M1081.9 519.9h0"/><path d="M1049.9 498.2h0"/><path d="M1091.4 509.7h0"/><path d="M1055.0 506.8h0"/><path d="M1142.5 513.8h0"/><path d="M1150.7 516.9h0"/><path d="M1072.1 515.0h0"/><path d="M1149.5 504.5h0"/><path d="M1025.5 484.5h0"/><path d="M1037.1 519.7h0"/><path d="M1120.5 519.1h0"/><path d="M1144.7 503.7h0"/><path d="M1139.3 500.2h0"/><path d="M1054.0 508.9h0"/><path d="M1036.8 500.7h0"/><path d="M1163.8 511.0h0"/><path d="M1164.3 519.9h0"/><path d="M1023.0 478.9h0"/><path d="M1120.0 519.3h0"/><path d="M1101.3 515.8h0"/><path d="M1055.3 509.4h0"/><path d="M1029.1 490.4h0"/><path d="M1178.0 516.9h0"/><path d="M1171.5 520.7h0"/><path d="M1049.8 506.6h0"/><path d="M1115.5 517.2h0"/><path d="M1024.2 493.0h0"/><path d="M1131.8 505.4h0"/><path d="M1065.5 520.0h0"/><path d="M1129.9 501.9h0"/><path d="M1139.6 520.1h0"/><path d="M1074.8 517.8h0"/><path d="M1171.6 519.8h0"/><path d="M1073.6 518.7h0"/><path d="M1026.1 497.6h0"/><path d="M1170.7 510.7h0"/><path d="M1172.7 487.5h0"/><path d="M1044.8 508.9h0"/><path d="M1178.3 502.3h0"/><path d="M1047.7 496.7h0"/><path d="M1047.3 498.5h0"/><path d="M1169.7 495.0h0"/><path d="M1175.8 494.9h0"/><path d="M1032.6 489.8h0"/><path d="M1016.6 483.2h0"/><path d="M1083.9 508.1h0"/><path d="M1161.2 515.5h0"/><path d="M1028.5 490.4h0"/><path d="M1163.2 496.0h0"/><path d="M1021.7 484.3h0"/><path d="M1013.5 490.4h0"/><path d="M1118.0 516.5h0"/><path d="M1140.1 519.4h0"/><path d="M1164.9 504.8h0"/><path d="M1024.5 479.8h0"/><path d="M1031.1 498.3h0"/><path d="M1184.0 493.7h0"/><path d="M1007.3 484.8h0"/><path d="M1061.1 516.1h0"/><path d="M1000.4 477.8h0"/><path d="M998.6 477.4h0"/><path d="M1001.7 478.2h0"/><path d="M997.0 475.0h0"/><path d="M1006.4 478.4h0"/><path d="M1000.8 471.3h0"/><path d="M1004.0 478.7h0"/><path d="M998.9 473.8h0"/><path d="M992.3 472.8h0"/><path d="M1005.5 478.6h0"/><path d="M1007.5 479.4h0"/><path d="M1018.6 477.9h0"/><path d="M1023.7 478.4h0"/><path d="M1009.5 475.2h0"/><path d="M1024.7 478.5h0"/><path d="M1015.5 479.4h0"/><path d="M1016.0 477.0h0"/><path d="M1014.7 478.6h0"/><path d="M1025.9 479.3h0"/><path d="M1009.0 476.4h0"/><path d="M1039.2 484.5h0"/><path d="M1027.1 479.9h0"/><path d="M1028.4 474.4h0"/><path d="M1044.7 485.3h0"/><path d="M1044.0 485.8h0"/><path d="M1034.5 483.0h0"/><path d="M1026.9 478.2h0"/><path d="M1046.1 486.8h0"/><path d="M1036.2 482.3h0"/><path d="M1026.5 479.8h0"/><path d="M1031.0 481.2h0"/><path d="M1048.9 489.7h0"/><path d="M1046.9 489.1h0"/><path d="M1053.7 491.3h0"/><path d="M1054.1 486.2h0"/><path d="M1054.0 491.0h0"/><path d="M1061.1 493.2h0"/><path d="M1049.3 488.0h0"/><path d="M1052.8 487.9h0"/><path d="M1066.6 494.2h0"/><path d="M1068.7 497.7h0"/><path d="M1063.5 495.2h0"/><path d="M1065.5 495.5h0"/><path d="M1070.5 493.1h0"/><path d="M1072.2 498.0h0"/><path d="M1071.4 496.1h0"/><path d="M1080.0 498.8h0"/><path d="M1083.7 496.4h0"/><path d="M1070.1 496.9h0"/><path d="M1081.2 501.3h0"/><path d="M1070.5 498.3h0"/><path d="M1089.0 503.1h0"/><path d="M1094.2 508.0h0"/><path d="M1095.6 508.6h0"/><path d="M1097.6 509.0h0"/><path d="M1087.5 502.8h0"/><path d="M1086.9 503.3h0"/><path d="M1089.2 503.6h0"/><path d="M1098.9 511.0h0"/><path d="M1125.6 502.2h0"/><path d="M1118.6 507.2h0"/><path d="M1120.6 505.6h0"/><path d="M1117.7 502.6h0"/><path d="M1116.2 503.1h0"/><path d="M1116.7 504.4h0"/><path d="M1127.1 501.9h0"/><path d="M1115.5 501.1h0"/><path d="M1132.2 499.6h0"/><path d="M1136.6 497.5h0"/><path d="M1130.6 501.1h0"/><path d="M1138.0 494.1h0"/><path d="M1135.7 500.0h0"/><path d="M1142.0 488.9h0"/><path d="M1150.2 492.7h0"/><path d="M1143.3 494.7h0"/><path d="M1143.7 495.5h0"/><path d="M1144.1 495.5h0"/><path d="M1151.8 490.7h0"/><path d="M1155.7 489.5h0"/><path d="M1154.6 489.9h0"/><path d="M1149.8 491.4h0"/><path d="M1152.9 489.6h0"/><path d="M1163.0 484.8h0"/><path d="M1165.3 479.8h0"/><path d="M1168.5 482.0h0"/><path d="M1166.0 484.1h0"/><path d="M1168.2 482.8h0"/><path d="M1170.6 480.5h0"/><path d="M1174.5 480.7h0"/><path d="M1177.0 476.4h0"/><path d="M1172.5 481.2h0"/><path d="M1181.1 477.5h0"/><path d="M1179.8 470.5h0"/><path d="M1183.2 477.8h0"/><path d="M1186.5 476.9h0"/><path d="M1187.0 477.0h0"/><path d="M1187.4 479.7h0"/><path d="M1197.9 479.7h0"/><path d="M1191.3 478.7h0"/><path d="M1197.5 473.1h0"/><path d="M1199.2 480.4h0"/><path d="M1195.9 481.1h0"/><path d="M1202.9 479.0h0"/><path d="M1200.2 475.1h0"/><path d="M1204.5 475.8h0"/><path d="M1209.6 471.7h0"/><path d="M1205.4 474.6h0"/><path d="M1211.6 470.7h0"/><path d="M1216.1 473.8h0"/><path d="M1213.1 473.8h0"/><path d="M1216.7 474.8h0"/><path d="M1216.0 472.9h0"/><path d="M1228.8 472.3h0"/><path d="M1226.4 472.2h0"/><path d="M1219.7 471.3h0"/><path d="M1228.4 465.8h0"/><path d="M1223.7 471.9h0"/><path d="M1236.1 467.7h0"/><path d="M1236.5 468.9h0"/><path d="M1234.0 471.5h0"/><path d="M1231.0 472.5h0"/><path d="M1241.1 473.0h0"/><path d="M1241.2 474.8h0"/><path d="M1239.9 466.2h0"/><path d="M987.2 471.1h0"/><path d="M987.7 479.1h0"/><path d="M995.7 473.1h0"/><path d="M987.7 472.5h0"/><path d="M998.2 484.6h0"/><path d="M1002.5 474.5h0"/><path d="M990.5 484.3h0"/><path d="M1005.6 483.2h0"/><path d="M991.3 480.5h0"/><path d="M987.5 478.0h0"/><path d="M1017.7 478.2h0"/><path d="M1011.5 477.4h0"/><path d="M1013.5 469.5h0"/><path d="M1014.6 478.7h0"/><path d="M1026.2 478.3h0"/><path d="M1014.3 475.6h0"/><path d="M1009.2 477.8h0"/><path d="M1021.2 477.0h0"/><path d="M1019.5 478.4h0"/><path d="M1011.0 477.9h0"/><path d="M1036.8 480.2h0"/><path d="M1037.5 482.0h0"/><path d="M1037.6 480.9h0"/><path d="M1044.0 487.0h0"/><path d="M1028.1 479.7h0"/><path d="M1034.3 481.7h0"/><path d="M1035.7 475.7h0"/><path d="M1032.8 476.3h0"/><path d="M1046.3 484.7h0"/><path d="M1031.0 480.5h0"/><path d="M1027.3 472.0h0"/><path d="M1049.0 489.3h0"/><path d="M1061.8 488.2h0"/><path d="M1057.2 492.1h0"/><path d="M1056.9 486.0h0"/><path d="M1053.6 491.8h0"/><path d="M1052.2 490.7h0"/><path d="M1048.3 488.0h0"/><path d="M1046.9 489.1h0"/><path d="M1216.9 477.0h0"/><path d="M1191.6 486.6h0"/><path d="M1209.9 486.3h0"/><path d="M1198.1 491.6h0"/><path d="M1191.3 490.6h0"/><path d="M1205.1 483.2h0"/><path d="M1199.4 486.4h0"/><path d="M1193.5 494.1h0"/><path d="M1215.6 480.4h0"/><path d="M1208.5 480.7h0"/><path d="M1215.5 479.4h0"/><path d="M1221.2 479.4h0"/><path d="M1224.6 479.2h0"/><path d="M1206.1 487.5h0"/><path d="M1202.8 479.7h0"/><path d="M1197.0 492.2h0"/><path d="M1199.8 484.6h0"/><path d="M1207.1 482.0h0"/><path d="M1218.7 474.0h0"/><path d="M1202.2 482.1h0"/><path d="M1205.3 485.1h0"/><path d="M1219.9 475.2h0"/><path d="M1222.4 473.1h0"/><path d="M1204.4 488.3h0"/><path d="M1210.7 477.0h0"/><path d="M1228.5 472.5h0"/><path d="M1196.9 482.0h0"/><path d="M1215.6 477.8h0"/><path d="M1226.3 473.9h0"/><path d="M1195.5 485.9h0"/><path d="M1204.2 485.1h0"/><path d="M1224.5 478.7h0"/><path d="M1216.6 479.6h0"/><path d="M1192.3 491.6h0"/><path d="M1195.7 485.7h0"/><path d="M1211.6 476.6h0"/><path d="M1193.6 486.8h0"/><path d="M1236.2 471.4h0"/><path d="M1214.0 479.2h0"/><path d="M1213.3 478.4h0"/><path d="M1191.2 487.0h0"/><path d="M1197.3 482.6h0"/><path d="M1220.5 475.3h0"/><path d="M1193.6 494.1h0"/><path d="M1195.8 483.4h0"/><path d="M1229.3 475.4h0"/><path d="M1224.5 479.1h0"/><path d="M1226.5 474.6h0"/><path d="M1206.7 488.0h0"/><path d="M1213.9 474.8h0"/><path d="M1204.8 479.9h0"/><path d="M1214.9 477.9h0"/><path d="M1192.1 488.1h0"/><path d="M1221.6 480.4h0"/><path d="M1209.6 483.4h0"/><path d="M1213.8 481.3h0"/><path d="M1205.1 481.2h0"/><path d="M1208.1 486.9h0"/><path d="M1205.3 480.3h0"/><path d="M1231.9 472.3h0"/><path d="M1212.6 479.9h0"/><path d="M1214.3 479.8h0"/><path d="M1210.7 478.7h0"/><path d="M1226.6 475.3h0"/><path d="M1228.0 477.6h0"/><path d="M1198.5 482.4h0"/><path d="M1211.6 479.6h0"/><path d="M1213.6 481.9h0"/><path d="M1194.4 488.8h0"/><path d="M1030.0 519.8h0"/><path d="M1032.5 519.8h0"/><path d="M1035.0 519.8h0"/><path d="M1037.5 519.8h0"/><path d="M1040.0 519.8h0"/><path d="M1042.5 519.8h0"/><path d="M1045.0 519.8h0"/><path d="M1047.5 519.8h0"/><path d="M1050.0 519.8h0"/><path d="M1052.5 519.8h0"/><path d="M1055.0 519.8h0"/><path d="M1057.5 519.8h0"/><path d="M1060.0 519.8h0"/><path d="M1062.5 519.8h0"/><path d="M1065.0 519.8h0"/><path d="M1067.5 519.8h0"/><path d="M1070.0 519.8h0"/><path d="M1072.5 519.8h0"/><path d="M1075.0 519.8h0"/><path d="M1077.5 519.8h0"/><path d="M1080.0 519.8h0"/><path d="M1082.5 519.8h0"/><path d="M1085.0 519.8h0"/><path d="M1087.5 519.8h0"/><path d="M1090.0 519.8h0"/><path d="M1092.5 519.8h0"/><path d="M1095.0 519.8h0"/><path d="M1097.5 519.8h0"/><path d="M1100.0 519.8h0"/><path d="M1102.5 519.8h0"/><path d="M1105.0 519.8h0"/><path d="M1107.5 519.8h0"/><path d="M1110.0 519.8h0"/><path d="M1112.5 519.8h0"/><path d="M1115.0 519.8h0"/><path d="M1117.5 519.8h0"/><path d="M1120.0 519.8h0"/><path d="M1122.5 519.8h0"/><path d="M1125.0 519.8h0"/><path d="M1127.5 519.8h0"/><path d="M1130.0 519.8h0"/><path d="M1132.5 519.8h0"/><path d="M1135.0 519.8h0"/><path d="M1137.5 519.8h0"/><path d="M1140.0 519.8h0"/><path d="M1142.5 519.8h0"/><path d="M1145.0 519.8h0"/><path d="M1147.5 519.8h0"/><path d="M1150.0 519.8h0"/><path d="M1152.5 519.8h0"/><path d="M1155.0 519.8h0"/><path d="M1157.5 519.8h0"/><path d="M1160.0 519.8h0"/><path d="M1162.5 519.8h0"/><path d="M1165.0 519.8h0"/><path d="M1167.5 519.8h0"/><path d="M1170.0 519.8h0"/><path d="M1172.5 519.8h0"/><path d="M1175.0 519.8h0"/><path d="M1177.5 519.8h0"/><path d="M1180.0 519.8h0"/><path d="M1182.5 519.8h0"/><path d="M1185.0 519.8h0"/><path d="M910.4 362.4h0"/><path d="M937.9 448.8h0"/><path d="M986.3 443.3h0"/><path d="M964.5 455.0h0"/><path d="M967.5 457.0h0"/><path d="M975.5 457.0h0"/><path d="M972.0 466.5h0"/><path d="M983.0 467.5h0"/><path d="M960.0 464.5h0"/><path d="M954.7 456.6h0"/><path d="M958.1 464.6h0"/><path d="M976.3 475.3h0"/><path d="M995.5 496.9h0"/><path d="M1012.5 496.3h0"/><path d="M1018.2 498.0h0"/><path d="M1023.9 501.4h0"/><path d="M1030.7 503.7h0"/><path d="M1005.7 490.0h0"/><path d="M940.6 449.8h0"/><path d="M1258.7 440.8h0"/><path d="M1266.6 442.5h0"/><path d="M1258.1 447.0h0"/><path d="M1258.1 451.0h0"/><path d="M1251.9 456.6h0"/><path d="M1257.0 468.0h0"/><path d="M1240.0 475.9h0"/><path d="M1210.5 496.9h0"/><path d="M1206.0 507.1h0"/><path d="M1190.7 516.1h0"/><path d="M1208.2 456.6h0"/><path d="M1187.3 462.3h0"/><path d="M1292.0 412.5h0"/><path d="M1283.0 420.0h0"/><path d="M1276.5 440.0h0"/><path d="M1284.0 442.5h0"/></g></g>
<rect x="829.9" y="41.4" width="666.40" height="500.30" fill="none" stroke="#333333" stroke-width="1.8"/>
<line x1="829.70" y1="541.7" x2="829.70" y2="547.90" stroke="#333333" stroke-width="2.6"/>
<line x1="968.50" y1="541.7" x2="968.50" y2="547.90" stroke="#333333" stroke-width="2.6"/>
<line x1="1107.30" y1="541.7" x2="1107.30" y2="547.90" stroke="#333333" stroke-width="2.6"/>
<line x1="1246.10" y1="541.7" x2="1246.10" y2="547.90" stroke="#333333" stroke-width="2.6"/>
<line x1="1384.90" y1="541.7" x2="1384.90" y2="547.90" stroke="#333333" stroke-width="2.6"/>
<line x1="823.70" y1="519.80" x2="829.9" y2="519.80" stroke="#333333" stroke-width="2.6"/>
<line x1="823.70" y1="405.67" x2="829.9" y2="405.67" stroke="#333333" stroke-width="2.6"/>
<line x1="823.70" y1="291.55" x2="829.9" y2="291.55" stroke="#333333" stroke-width="2.6"/>
<line x1="823.70" y1="177.42" x2="829.9" y2="177.42" stroke="#333333" stroke-width="2.6"/>
<line x1="823.70" y1="63.30" x2="829.9" y2="63.30" stroke="#333333" stroke-width="2.6"/>
<clipPath id="cp3"><rect x="77.7" y="657.9" width="666.6999999999999" height="500.0000000000001"/></clipPath>
<clipPath id="gp3"><rect x="80.10000000000001" y="660.3" width="661.9" height="495.2000000000001"/></clipPath>
<g clip-path="url(#gp3)">
<line x1="82.25" y1="657.9" x2="82.25" y2="1157.9" stroke="#e6e6e4" stroke-width="1.5"/>
<line x1="222.15" y1="657.9" x2="222.15" y2="1157.9" stroke="#e6e6e4" stroke-width="1.5"/>
<line x1="362.05" y1="657.9" x2="362.05" y2="1157.9" stroke="#e6e6e4" stroke-width="1.5"/>
<line x1="501.95" y1="657.9" x2="501.95" y2="1157.9" stroke="#e6e6e4" stroke-width="1.5"/>
<line x1="641.85" y1="657.9" x2="641.85" y2="1157.9" stroke="#e6e6e4" stroke-width="1.5"/>
<line x1="77.7" y1="1050.47" x2="744.4" y2="1050.47" stroke="#e6e6e4" stroke-width="1.5"/>
<line x1="77.7" y1="879.42" x2="744.4" y2="879.42" stroke="#e6e6e4" stroke-width="1.5"/>
<line x1="77.7" y1="708.38" x2="744.4" y2="708.38" stroke="#e6e6e4" stroke-width="1.5"/>
<line x1="152.20" y1="657.9" x2="152.20" y2="1157.9" stroke="#e6e6e4" stroke-width="3.1"/>
<line x1="292.10" y1="657.9" x2="292.10" y2="1157.9" stroke="#e6e6e4" stroke-width="3.1"/>
<line x1="432.00" y1="657.9" x2="432.00" y2="1157.9" stroke="#e6e6e4" stroke-width="3.1"/>
<line x1="571.90" y1="657.9" x2="571.90" y2="1157.9" stroke="#e6e6e4" stroke-width="3.1"/>
<line x1="711.80" y1="657.9" x2="711.80" y2="1157.9" stroke="#e6e6e4" stroke-width="3.1"/>
<line x1="77.7" y1="1136.00" x2="744.4" y2="1136.00" stroke="#e6e6e4" stroke-width="3.1"/>
<line x1="77.7" y1="964.95" x2="744.4" y2="964.95" stroke="#e6e6e4" stroke-width="3.1"/>
<line x1="77.7" y1="793.90" x2="744.4" y2="793.90" stroke="#e6e6e4" stroke-width="3.1"/>
</g>
<g clip-path="url(#cp3)"><g fill="none" stroke="#2c9cbf" stroke-opacity="0.43" stroke-width="7.7" stroke-linecap="round"><path d="M341.6 1116.8h0"/><path d="M340.5 1101.6h0"/><path d="M348.5 1105.3h0"/><path d="M405.9 1116.0h0"/><path d="M366.2 1109.9h0"/><path d="M386.5 1113.5h0"/><path d="M331.9 1107.4h0"/><path d="M372.0 1113.4h0"/><path d="M369.1 1114.6h0"/><path d="M330.3 1097.7h0"/><path d="M336.5 1104.5h0"/><path d="M365.4 1112.1h0"/><path d="M351.0 1114.2h0"/><path d="M367.5 1101.8h0"/><path d="M416.2 1123.2h0"/><path d="M335.9 1125.6h0"/><path d="M337.7 1120.2h0"/><path d="M361.9 1113.2h0"/><path d="M333.1 1106.5h0"/><path d="M376.5 1111.1h0"/><path d="M343.0 1114.4h0"/><path d="M411.9 1120.2h0"/><path d="M395.4 1110.1h0"/><path d="M350.1 1109.8h0"/><path d="M373.1 1115.0h0"/><path d="M354.6 1095.5h0"/><path d="M339.7 1110.6h0"/><path d="M373.1 1103.2h0"/><path d="M357.1 1094.5h0"/><path d="M397.2 1118.2h0"/><path d="M338.6 1103.3h0"/><path d="M392.5 1106.7h0"/><path d="M361.8 1090.5h0"/><path d="M358.5 1114.1h0"/><path d="M370.6 1103.6h0"/><path d="M365.9 1113.9h0"/><path d="M335.4 1105.2h0"/><path d="M367.3 1114.2h0"/><path d="M346.6 1083.1h0"/><path d="M381.5 1111.8h0"/><path d="M349.9 1110.7h0"/><path d="M398.1 1118.2h0"/><path d="M332.2 1082.2h0"/><path d="M344.5 1095.9h0"/><path d="M356.3 1098.2h0"/><path d="M361.6 1099.8h0"/><path d="M367.4 1112.8h0"/><path d="M362.3 1099.5h0"/><path d="M367.8 1101.4h0"/><path d="M352.2 1100.0h0"/><path d="M336.2 1101.9h0"/><path d="M385.6 1116.1h0"/><path d="M346.5 1109.1h0"/><path d="M385.5 1112.6h0"/><path d="M367.5 1102.7h0"/><path d="M359.1 1104.2h0"/><path d="M397.7 1116.0h0"/><path d="M361.2 1111.2h0"/><path d="M341.9 1077.3h0"/><path d="M338.8 1077.2h0"/><path d="M391.9 1109.3h0"/><path d="M328.2 1096.6h0"/><path d="M350.1 1086.5h0"/><path d="M334.6 1113.4h0"/><path d="M396.1 1112.3h0"/><path d="M335.2 1112.5h0"/><path d="M414.7 1124.7h0"/><path d="M379.8 1103.5h0"/><path d="M404.4 1121.3h0"/><path d="M403.1 1116.1h0"/><path d="M346.6 1102.3h0"/><path d="M329.4 1064.4h0"/><path d="M358.3 1109.3h0"/><path d="M368.1 1105.4h0"/><path d="M347.1 1073.0h0"/><path d="M353.2 1110.4h0"/><path d="M385.1 1108.0h0"/><path d="M383.5 1112.3h0"/><path d="M374.8 1103.3h0"/><path d="M400.8 1118.1h0"/><path d="M331.9 1100.6h0"/><path d="M399.2 1110.7h0"/><path d="M372.5 1105.5h0"/><path d="M409.1 1121.3h0"/><path d="M342.1 1089.8h0"/><path d="M412.1 1124.5h0"/><path d="M401.2 1117.4h0"/><path d="M339.6 1112.3h0"/><path d="M358.5 1104.1h0"/><path d="M415.4 1126.3h0"/><path d="M359.9 1087.7h0"/><path d="M345.3 1079.7h0"/><path d="M337.2 1077.6h0"/><path d="M393.6 1107.0h0"/><path d="M351.2 1080.8h0"/><path d="M340.1 1101.5h0"/><path d="M350.3 1087.9h0"/><path d="M351.5 1109.1h0"/><path d="M415.2 1123.0h0"/><path d="M339.5 1116.7h0"/><path d="M368.9 1103.4h0"/><path d="M357.6 1100.4h0"/><path d="M360.2 1106.0h0"/><path d="M342.9 1106.3h0"/><path d="M358.9 1104.6h0"/><path d="M359.9 1105.4h0"/><path d="M347.0 1083.1h0"/><path d="M371.9 1113.8h0"/><path d="M332.2 1122.1h0"/><path d="M339.2 1116.5h0"/><path d="M363.0 1098.8h0"/><path d="M370.4 1110.8h0"/><path d="M366.8 1106.1h0"/><path d="M398.5 1119.2h0"/><path d="M384.9 1113.6h0"/><path d="M356.0 1104.7h0"/><path d="M338.6 1094.6h0"/><path d="M415.0 1121.5h0"/><path d="M400.3 1120.7h0"/><path d="M388.6 1110.2h0"/><path d="M335.8 1107.9h0"/><path d="M398.2 1119.5h0"/><path d="M335.7 1108.8h0"/><path d="M376.8 1115.0h0"/><path d="M343.8 1106.8h0"/><path d="M389.2 1117.6h0"/><path d="M364.8 1104.0h0"/><path d="M331.1 1094.6h0"/><path d="M371.8 1112.2h0"/><path d="M346.9 1101.7h0"/><path d="M388.5 1110.8h0"/><path d="M382.6 1106.2h0"/><path d="M338.0 1118.9h0"/><path d="M364.9 1104.2h0"/><path d="M333.6 1107.0h0"/><path d="M336.0 1113.8h0"/><path d="M329.6 1090.4h0"/><path d="M364.9 1110.0h0"/><path d="M391.8 1111.3h0"/><path d="M335.5 1115.5h0"/><path d="M392.8 1118.2h0"/><path d="M332.8 1121.1h0"/><path d="M329.1 1104.5h0"/><path d="M336.0 1107.2h0"/><path d="M345.1 1094.0h0"/><path d="M392.7 1115.5h0"/><path d="M391.4 1115.3h0"/><path d="M347.1 1104.4h0"/><path d="M332.4 1109.7h0"/><path d="M371.0 1109.6h0"/><path d="M397.4 1110.3h0"/><path d="M344.9 1108.5h0"/><path d="M391.8 1115.4h0"/><path d="M404.9 1114.2h0"/><path d="M365.7 1108.2h0"/><path d="M400.4 1118.4h0"/><path d="M380.7 1111.0h0"/><path d="M332.3 1114.9h0"/><path d="M402.7 1112.7h0"/><path d="M359.1 1109.0h0"/><path d="M396.5 1112.0h0"/><path d="M400.6 1118.5h0"/><path d="M402.9 1121.4h0"/><path d="M343.1 1111.2h0"/><path d="M381.9 1114.4h0"/><path d="M385.8 1110.1h0"/><path d="M335.3 1110.8h0"/><path d="M364.8 1099.1h0"/><path d="M364.0 1096.2h0"/><path d="M332.7 1106.2h0"/><path d="M378.1 1110.0h0"/><path d="M353.8 1103.6h0"/><path d="M408.9 1119.4h0"/><path d="M354.0 1098.2h0"/><path d="M334.0 1094.7h0"/><path d="M393.2 1115.8h0"/><path d="M375.5 1103.5h0"/><path d="M395.9 1110.0h0"/><path d="M342.0 1117.3h0"/><path d="M341.7 1109.1h0"/><path d="M374.4 1111.4h0"/><path d="M401.1 1116.5h0"/><path d="M401.4 1115.8h0"/><path d="M357.7 1095.4h0"/><path d="M391.7 1111.7h0"/><path d="M393.9 1110.4h0"/><path d="M384.5 1114.0h0"/><path d="M332.0 1112.4h0"/><path d="M360.9 1113.8h0"/><path d="M349.4 1094.1h0"/><path d="M416.6 1123.9h0"/><path d="M421.3 1126.1h0"/><path d="M340.6 1096.8h0"/><path d="M411.5 1125.1h0"/><path d="M552.4 1079.9h0"/><path d="M535.7 1060.9h0"/><path d="M537.7 1096.8h0"/><path d="M494.8 1105.8h0"/><path d="M557.8 1086.6h0"/><path d="M440.6 1126.3h0"/><path d="M530.4 1090.6h0"/><path d="M520.0 1091.6h0"/><path d="M543.1 1072.0h0"/><path d="M539.8 1083.8h0"/><path d="M516.2 1095.3h0"/><path d="M515.3 1103.0h0"/><path d="M491.0 1103.6h0"/><path d="M532.6 1071.9h0"/><path d="M509.3 1103.3h0"/><path d="M536.0 1060.5h0"/><path d="M528.2 1085.9h0"/><path d="M500.3 1105.8h0"/><path d="M548.0 1055.7h0"/><path d="M539.7 1067.9h0"/><path d="M547.6 1057.6h0"/><path d="M519.4 1107.1h0"/><path d="M538.4 1081.7h0"/><path d="M472.1 1111.0h0"/><path d="M458.8 1114.7h0"/><path d="M490.3 1104.9h0"/><path d="M500.4 1098.2h0"/><path d="M542.3 1091.5h0"/><path d="M555.9 1101.7h0"/><path d="M483.3 1108.3h0"/><path d="M525.3 1106.4h0"/><path d="M539.0 1106.1h0"/><path d="M542.5 1066.9h0"/><path d="M511.1 1100.8h0"/><path d="M549.7 1108.1h0"/><path d="M526.4 1084.3h0"/><path d="M519.4 1092.3h0"/><path d="M555.6 1063.4h0"/><path d="M532.9 1085.1h0"/><path d="M496.2 1101.2h0"/><path d="M463.0 1119.0h0"/><path d="M541.2 1074.3h0"/><path d="M463.0 1114.5h0"/><path d="M554.6 1085.5h0"/><path d="M525.0 1104.0h0"/><path d="M481.0 1111.7h0"/><path d="M493.8 1107.5h0"/><path d="M496.9 1097.5h0"/><path d="M464.7 1119.3h0"/><path d="M542.4 1062.2h0"/><path d="M527.3 1097.5h0"/><path d="M482.2 1105.9h0"/><path d="M461.0 1115.7h0"/><path d="M518.6 1092.5h0"/><path d="M554.8 1101.1h0"/><path d="M490.2 1101.9h0"/><path d="M476.3 1110.4h0"/><path d="M535.3 1089.5h0"/><path d="M541.4 1063.7h0"/><path d="M497.4 1100.3h0"/><path d="M526.1 1109.7h0"/><path d="M519.0 1106.3h0"/><path d="M495.5 1102.7h0"/><path d="M457.0 1119.7h0"/><path d="M542.0 1061.7h0"/><path d="M518.1 1099.9h0"/><path d="M562.9 1061.2h0"/><path d="M444.5 1124.7h0"/><path d="M538.6 1061.6h0"/><path d="M492.8 1108.1h0"/><path d="M505.3 1091.1h0"/><path d="M466.5 1114.3h0"/><path d="M512.7 1103.3h0"/><path d="M530.9 1102.6h0"/><path d="M503.8 1102.4h0"/><path d="M537.9 1108.7h0"/><path d="M522.4 1104.1h0"/><path d="M546.5 1076.1h0"/><path d="M531.1 1083.7h0"/><path d="M512.3 1106.2h0"/><path d="M491.6 1108.5h0"/><path d="M560.7 1064.9h0"/><path d="M550.2 1093.8h0"/><path d="M533.2 1068.8h0"/><path d="M544.2 1070.8h0"/><path d="M466.3 1115.4h0"/><path d="M508.0 1100.5h0"/><path d="M564.1 1065.9h0"/><path d="M524.9 1072.6h0"/><path d="M451.8 1117.9h0"/><path d="M512.5 1097.1h0"/><path d="M453.3 1118.5h0"/><path d="M538.4 1077.9h0"/><path d="M516.3 1104.2h0"/><path d="M543.8 1108.0h0"/><path d="M486.6 1108.3h0"/><path d="M465.2 1112.8h0"/><path d="M451.1 1118.3h0"/><path d="M540.4 1080.7h0"/><path d="M474.9 1115.5h0"/><path d="M541.1 1059.3h0"/><path d="M478.6 1106.1h0"/><path d="M508.3 1099.0h0"/><path d="M500.1 1102.0h0"/><path d="M539.8 1076.1h0"/><path d="M517.1 1098.6h0"/><path d="M492.4 1105.3h0"/><path d="M441.5 1126.2h0"/><path d="M535.0 1087.5h0"/><path d="M486.0 1106.9h0"/><path d="M518.6 1094.1h0"/><path d="M521.5 1105.9h0"/><path d="M506.3 1100.5h0"/><path d="M473.3 1115.2h0"/><path d="M544.1 1071.6h0"/><path d="M547.6 1087.4h0"/><path d="M543.7 1073.4h0"/><path d="M452.8 1120.9h0"/><path d="M524.7 1102.1h0"/><path d="M467.2 1117.2h0"/><path d="M557.4 1071.6h0"/><path d="M550.9 1063.8h0"/><path d="M523.5 1108.9h0"/><path d="M464.5 1119.2h0"/><path d="M511.8 1101.4h0"/><path d="M538.4 1102.2h0"/><path d="M449.5 1121.2h0"/><path d="M536.8 1101.9h0"/><path d="M461.9 1117.4h0"/><path d="M544.5 1077.1h0"/><path d="M483.3 1109.2h0"/><path d="M453.6 1120.9h0"/><path d="M565.6 1064.3h0"/><path d="M552.2 1052.3h0"/><path d="M527.1 1107.2h0"/><path d="M474.9 1109.1h0"/><path d="M498.3 1106.4h0"/><path d="M471.7 1110.3h0"/><path d="M555.6 1075.8h0"/><path d="M522.5 1090.3h0"/><path d="M535.6 1097.6h0"/><path d="M533.0 1077.9h0"/><path d="M531.2 1067.9h0"/><path d="M534.9 1109.2h0"/><path d="M521.7 1090.4h0"/><path d="M524.6 1100.0h0"/><path d="M540.0 1082.5h0"/><path d="M457.5 1122.0h0"/><path d="M548.9 1082.7h0"/><path d="M550.2 1054.1h0"/><path d="M506.3 1100.8h0"/><path d="M513.7 1104.2h0"/><path d="M471.4 1111.7h0"/><path d="M526.6 1082.5h0"/><path d="M450.0 1121.2h0"/><path d="M558.3 1092.3h0"/><path d="M506.7 1128.3h0"/><path d="M508.3 1126.7h0"/><path d="M509.4 1128.6h0"/><path d="M511.0 1125.8h0"/><path d="M512.0 1127.1h0"/><path d="M513.1 1128.1h0"/><path d="M514.4 1125.9h0"/><path d="M516.3 1126.2h0"/><path d="M516.9 1124.9h0"/><path d="M518.6 1123.7h0"/><path d="M520.2 1125.8h0"/><path d="M521.3 1126.0h0"/><path d="M523.5 1124.5h0"/><path d="M524.5 1122.7h0"/><path d="M525.1 1125.7h0"/><path d="M526.8 1122.8h0"/><path d="M528.9 1124.5h0"/><path d="M529.3 1122.9h0"/><path d="M530.8 1122.6h0"/><path d="M531.8 1123.4h0"/><path d="M533.6 1122.8h0"/><path d="M534.8 1121.6h0"/><path d="M536.0 1124.2h0"/><path d="M538.3 1122.9h0"/><path d="M538.8 1121.4h0"/><path d="M540.2 1121.8h0"/><path d="M541.4 1121.5h0"/><path d="M543.0 1121.1h0"/><path d="M545.0 1121.8h0"/><path d="M546.1 1121.4h0"/><path d="M547.6 1122.8h0"/><path d="M548.6 1120.1h0"/><path d="M550.2 1121.0h0"/><path d="M552.0 1119.9h0"/><path d="M553.5 1119.4h0"/><path d="M554.4 1120.9h0"/><path d="M555.4 1122.4h0"/><path d="M557.3 1119.6h0"/><path d="M558.4 1121.2h0"/><path d="M559.1 1119.2h0"/><path d="M561.3 1121.4h0"/><path d="M562.4 1120.2h0"/><path d="M563.9 1119.5h0"/><path d="M565.7 1121.9h0"/><path d="M566.6 1118.5h0"/><path d="M567.8 1121.2h0"/><path d="M569.1 1118.6h0"/><path d="M570.3 1120.8h0"/><path d="M572.2 1119.1h0"/><path d="M573.6 1120.8h0"/><path d="M575.5 1120.9h0"/><path d="M576.1 1120.8h0"/><path d="M578.1 1121.0h0"/><path d="M579.3 1119.9h0"/><path d="M580.3 1120.8h0"/><path d="M107.0 679.9h0"/><path d="M183.9 801.1h0"/><path d="M209.8 870.2h0"/><path d="M185.7 878.3h0"/><path d="M211.3 881.9h0"/><path d="M221.4 916.9h0"/><path d="M227.8 938.2h0"/><path d="M223.2 952.9h0"/><path d="M236.9 966.2h0"/><path d="M295.0 997.7h0"/><path d="M276.8 1012.5h0"/><path d="M307.8 1010.8h0"/><path d="M273.2 1027.8h0"/><path d="M280.5 1033.5h0"/><path d="M310.8 1031.5h0"/><path d="M290.8 1039.7h0"/><path d="M275.2 1045.5h0"/><path d="M306.0 1042.0h0"/><path d="M309.3 1047.5h0"/><path d="M216.5 1055.5h0"/><path d="M300.0 1051.5h0"/><path d="M302.0 1051.5h0"/><path d="M310.0 1056.5h0"/><path d="M309.0 1058.5h0"/><path d="M314.0 1058.5h0"/><path d="M322.5 1060.5h0"/><path d="M322.5 1062.0h0"/><path d="M323.0 1064.5h0"/><path d="M328.5 1067.5h0"/><path d="M307.5 1067.0h0"/><path d="M305.5 1071.5h0"/><path d="M312.0 1069.0h0"/><path d="M316.5 1073.5h0"/><path d="M325.5 1077.0h0"/><path d="M332.0 1073.0h0"/><path d="M336.0 1069.0h0"/><path d="M342.0 1071.0h0"/><path d="M333.0 1077.0h0"/><path d="M243.5 1076.5h0"/><path d="M278.2 1076.5h0"/><path d="M295.5 1077.0h0"/><path d="M221.8 1083.0h0"/><path d="M290.8 1085.0h0"/><path d="M262.5 1088.5h0"/><path d="M304.0 1085.0h0"/><path d="M306.0 1088.5h0"/><path d="M318.0 1086.0h0"/><path d="M323.0 1085.0h0"/><path d="M330.0 1088.5h0"/><path d="M340.0 1084.0h0"/><path d="M344.0 1086.0h0"/><path d="M349.0 1081.0h0"/><path d="M262.8 1089.8h0"/><path d="M278.8 1099.0h0"/><path d="M293.5 1090.5h0"/><path d="M289.3 1095.8h0"/><path d="M306.0 1090.5h0"/><path d="M300.0 1091.5h0"/><path d="M296.0 1101.0h0"/><path d="M304.5 1102.0h0"/><path d="M301.0 1099.5h0"/><path d="M307.0 1096.0h0"/><path d="M302.5 1109.0h0"/><path d="M296.5 1106.0h0"/><path d="M297.0 1114.5h0"/><path d="M299.5 1121.5h0"/><path d="M308.5 1126.0h0"/><path d="M312.0 1122.0h0"/><path d="M315.0 1089.0h0"/><path d="M323.0 1091.0h0"/><path d="M330.0 1091.0h0"/><path d="M327.0 1093.0h0"/><path d="M332.0 1090.0h0"/><path d="M319.0 1099.0h0"/><path d="M325.0 1102.0h0"/><path d="M323.0 1100.0h0"/><path d="M316.0 1108.0h0"/><path d="M337.0 1096.0h0"/><path d="M331.0 1106.0h0"/><path d="M320.0 1128.0h0"/><path d="M325.0 1130.0h0"/><path d="M332.0 1128.0h0"/><path d="M335.0 1130.0h0"/><path d="M353.0 1073.0h0"/><path d="M369.0 1077.0h0"/><path d="M379.5 1089.0h0"/><path d="M517.0 1078.0h0"/><path d="M526.0 1072.0h0"/><path d="M535.0 1059.0h0"/><path d="M544.5 1053.5h0"/><path d="M551.0 1051.5h0"/><path d="M562.0 1043.0h0"/><path d="M564.5 1035.5h0"/><path d="M571.0 1034.0h0"/><path d="M569.0 1048.5h0"/><path d="M568.0 1059.0h0"/><path d="M555.0 1063.0h0"/><path d="M560.0 1062.0h0"/><path d="M564.0 1062.0h0"/><path d="M548.0 1071.0h0"/><path d="M544.0 1064.0h0"/><path d="M600.0 1037.0h0"/><path d="M601.0 1041.0h0"/><path d="M604.5 1057.5h0"/><path d="M610.0 1067.5h0"/><path d="M579.0 1070.0h0"/><path d="M586.0 1068.5h0"/><path d="M593.0 1066.5h0"/><path d="M596.5 1066.5h0"/><path d="M588.5 1082.0h0"/><path d="M594.0 1088.5h0"/><path d="M603.0 1090.0h0"/><path d="M570.0 1087.0h0"/><path d="M563.0 1088.0h0"/><path d="M578.0 1094.0h0"/><path d="M574.0 1096.0h0"/><path d="M557.0 1094.0h0"/><path d="M553.0 1104.0h0"/><path d="M611.0 1109.5h0"/><path d="M615.0 1108.5h0"/><path d="M619.0 1105.0h0"/><path d="M586.0 1118.5h0"/><path d="M593.5 1116.0h0"/><path d="M562.0 1116.0h0"/><path d="M619.0 1078.5h0"/><path d="M667.5 960.8h0"/><path d="M611.2 964.3h0"/><path d="M616.8 964.3h0"/><path d="M611.5 977.6h0"/><path d="M596.1 996.0h0"/><path d="M589.7 1005.6h0"/><path d="M607.6 1009.6h0"/><path d="M590.4 1012.8h0"/><path d="M592.8 1018.0h0"/><path d="M604.0 1014.4h0"/><path d="M614.8 1021.5h0"/><path d="M632.8 1019.1h0"/><path d="M628.4 1023.1h0"/><path d="M644.1 1019.5h0"/><path d="M665.0 1018.3h0"/><path d="M601.6 1024.7h0"/><path d="M596.0 1027.6h0"/><path d="M567.2 1045.5h0"/><path d="M628.4 1051.9h0"/><path d="M632.3 1054.8h0"/><path d="M643.1 1062.3h0"/><path d="M655.1 1069.5h0"/><path d="M637.2 1067.6h0"/><path d="M621.2 1078.6h0"/><path d="M651.1 1088.4h0"/><path d="M620.4 1105.5h0"/><path d="M624.0 1104.7h0"/><path d="M714.5 793.6h0"/><path d="M651.7 933.7h0"/><path d="M216.5 1055.5h0"/><path d="M243.5 1076.5h0"/><path d="M278.2 1076.5h0"/><path d="M278.2 1076.5h0"/><path d="M290.8 1085.0h0"/><path d="M290.8 1085.0h0"/><path d="M306.0 1090.5h0"/></g><path d="M336.8 1114.8 L335.0 1122.1 L336.9 1135.3 L343.2 1138.5 L530.3 1138.5 L531.9 1134.5 L530.4 1131.5 L505.0 1130.5 L504.9 1130.5 L504.8 1130.5 L504.7 1130.4 L504.6 1130.4 L504.5 1130.4 L504.4 1130.3 L504.3 1130.3 L504.3 1130.2 L504.2 1130.1 L504.2 1130.0 L504.1 1129.9 L504.1 1129.9 L504.0 1129.8 L504.0 1129.7 L504.0 1129.6 L504.0 1129.5 L504.0 1129.4 L504.0 1129.3 L504.1 1129.2 L504.1 1129.1 L504.1 1129.0 L504.2 1128.9 L504.2 1128.8 L504.3 1128.8 L504.4 1128.7 L504.5 1128.7 L504.6 1128.6 L504.6 1128.6 L517.6 1123.6 L527.6 1119.1 L534.2 1115.8 L532.5 1114.4 L522.5 1111.5 L508.0 1109.0 L493.5 1110.5 L479.0 1114.8 L478.9 1114.8 L464.3 1118.5 L449.6 1123.4 L449.6 1123.5 L435.3 1127.9 L432.8 1131.6 L432.8 1131.6 L432.7 1131.7 L432.6 1131.8 L432.6 1131.8 L432.5 1131.9 L432.4 1131.9 L432.3 1132.0 L432.2 1132.0 L432.1 1132.0 L432.0 1132.0 L431.9 1132.0 L431.8 1132.0 L431.7 1132.0 L431.6 1131.9 L431.6 1131.9 L424.6 1128.4 L424.5 1128.4 L404.7 1117.5 L394.8 1115.5 L379.9 1113.5 L360.0 1111.5 L345.2 1112.5 L336.8 1114.8Z" fill="#cf8878" fill-opacity="1.0"/><g fill="none" stroke="#cf8878" stroke-opacity="0.5" stroke-width="7.7" stroke-linecap="round"><path d="M500.7 1134.3h0"/><path d="M508.3 1120.2h0"/><path d="M389.9 1126.7h0"/><path d="M487.7 1130.5h0"/><path d="M386.2 1125.1h0"/><path d="M499.9 1131.7h0"/><path d="M495.3 1125.9h0"/><path d="M482.3 1132.0h0"/><path d="M391.6 1134.5h0"/><path d="M490.7 1121.3h0"/><path d="M487.7 1119.6h0"/><path d="M505.0 1112.9h0"/><path d="M480.8 1136.5h0"/><path d="M362.0 1117.8h0"/><path d="M382.1 1118.4h0"/><path d="M349.9 1118.4h0"/><path d="M356.9 1124.4h0"/><path d="M520.2 1118.7h0"/><path d="M440.0 1134.2h0"/><path d="M484.2 1136.1h0"/><path d="M455.2 1133.6h0"/><path d="M349.2 1130.0h0"/><path d="M402.0 1119.0h0"/><path d="M486.4 1130.2h0"/><path d="M403.1 1120.1h0"/><path d="M390.8 1135.3h0"/><path d="M389.0 1123.8h0"/><path d="M525.9 1133.2h0"/><path d="M443.1 1130.7h0"/><path d="M385.6 1128.9h0"/><path d="M518.1 1136.6h0"/><path d="M408.2 1132.1h0"/><path d="M491.1 1117.6h0"/><path d="M482.9 1129.2h0"/><path d="M504.2 1126.5h0"/><path d="M364.8 1121.1h0"/><path d="M520.5 1118.6h0"/><path d="M507.7 1135.8h0"/><path d="M397.0 1128.2h0"/><path d="M483.3 1127.0h0"/><path d="M360.0 1116.8h0"/><path d="M477.0 1127.3h0"/><path d="M395.3 1124.6h0"/><path d="M437.9 1136.2h0"/><path d="M519.0 1119.6h0"/><path d="M488.5 1118.4h0"/><path d="M508.5 1134.1h0"/><path d="M504.9 1126.5h0"/><path d="M505.2 1135.5h0"/><path d="M447.2 1132.9h0"/><path d="M369.1 1122.3h0"/><path d="M355.3 1122.8h0"/><path d="M524.0 1136.8h0"/><path d="M468.0 1121.3h0"/><path d="M487.4 1118.8h0"/><path d="M357.9 1122.7h0"/><path d="M373.0 1116.5h0"/><path d="M375.0 1129.1h0"/><path d="M520.4 1116.7h0"/><path d="M502.9 1122.2h0"/><path d="M369.2 1133.3h0"/><path d="M475.4 1134.2h0"/><path d="M481.4 1131.5h0"/><path d="M347.2 1134.3h0"/><path d="M381.8 1120.3h0"/><path d="M492.9 1113.5h0"/><path d="M369.7 1132.0h0"/><path d="M389.6 1119.4h0"/><path d="M503.3 1114.3h0"/><path d="M360.7 1130.5h0"/><path d="M449.6 1131.8h0"/><path d="M358.4 1135.7h0"/><path d="M470.7 1125.8h0"/><path d="M497.6 1112.5h0"/><path d="M342.6 1130.5h0"/><path d="M342.3 1129.9h0"/><path d="M390.3 1132.9h0"/><path d="M348.1 1123.3h0"/><path d="M457.5 1124.2h0"/><path d="M387.9 1118.4h0"/><path d="M499.8 1119.1h0"/><path d="M472.6 1135.4h0"/><path d="M517.5 1133.0h0"/><path d="M350.9 1118.5h0"/><path d="M339.2 1126.0h0"/><path d="M405.5 1120.9h0"/><path d="M353.7 1131.1h0"/><path d="M492.7 1130.3h0"/><path d="M491.6 1113.6h0"/><path d="M352.3 1128.6h0"/><path d="M467.2 1120.0h0"/><path d="M523.7 1115.5h0"/><path d="M380.3 1130.2h0"/><path d="M481.7 1128.0h0"/><path d="M438.8 1133.8h0"/><path d="M468.6 1131.1h0"/><path d="M384.9 1135.3h0"/><path d="M409.9 1130.5h0"/><path d="M502.3 1136.6h0"/><path d="M482.1 1124.2h0"/><path d="M341.4 1112.9h0"/><path d="M344.7 1114.5h0"/><path d="M341.6 1112.9h0"/><path d="M344.1 1114.5h0"/><path d="M356.3 1112.5h0"/><path d="M349.5 1108.4h0"/><path d="M354.9 1113.3h0"/><path d="M354.6 1114.2h0"/><path d="M349.2 1114.3h0"/><path d="M345.3 1111.2h0"/><path d="M348.2 1114.7h0"/><path d="M371.9 1111.6h0"/><path d="M369.7 1114.0h0"/><path d="M366.2 1112.7h0"/><path d="M370.8 1112.2h0"/><path d="M376.7 1113.4h0"/><path d="M362.7 1113.2h0"/><path d="M368.4 1112.6h0"/><path d="M372.2 1114.7h0"/><path d="M376.6 1115.6h0"/><path d="M361.2 1108.2h0"/><path d="M382.2 1111.8h0"/><path d="M380.8 1114.8h0"/><path d="M382.1 1113.5h0"/><path d="M385.7 1115.9h0"/><path d="M386.1 1115.3h0"/><path d="M388.3 1116.7h0"/><path d="M383.5 1112.0h0"/><path d="M402.9 1119.4h0"/><path d="M398.9 1117.5h0"/><path d="M403.7 1119.6h0"/><path d="M401.9 1119.1h0"/><path d="M403.9 1118.7h0"/><path d="M406.1 1119.7h0"/><path d="M412.7 1123.8h0"/><path d="M414.9 1124.4h0"/><path d="M412.6 1123.5h0"/><path d="M412.5 1122.4h0"/><path d="M424.7 1130.1h0"/><path d="M420.6 1125.3h0"/><path d="M424.1 1127.9h0"/><path d="M416.0 1125.3h0"/><path d="M417.3 1125.2h0"/><path d="M427.1 1129.5h0"/><path d="M428.3 1131.4h0"/><path d="M430.1 1132.3h0"/><path d="M440.4 1121.0h0"/><path d="M448.9 1123.2h0"/><path d="M434.2 1128.5h0"/><path d="M445.5 1126.1h0"/><path d="M443.3 1126.3h0"/><path d="M449.6 1125.2h0"/><path d="M446.9 1125.5h0"/><path d="M456.7 1120.6h0"/><path d="M451.7 1122.6h0"/><path d="M462.5 1121.2h0"/><path d="M454.2 1116.1h0"/><path d="M462.0 1120.5h0"/><path d="M453.2 1123.6h0"/><path d="M464.2 1115.4h0"/><path d="M467.8 1118.7h0"/><path d="M467.5 1111.9h0"/><path d="M466.8 1119.7h0"/><path d="M464.7 1120.2h0"/><path d="M478.1 1115.9h0"/><path d="M469.2 1119.3h0"/><path d="M475.0 1118.1h0"/><path d="M481.5 1114.1h0"/><path d="M481.4 1116.4h0"/><path d="M487.4 1114.8h0"/><path d="M481.7 1115.5h0"/><path d="M483.9 1114.4h0"/><path d="M482.2 1114.6h0"/><path d="M488.5 1113.6h0"/><path d="M498.2 1109.2h0"/><path d="M494.5 1111.6h0"/><path d="M503.6 1107.1h0"/><path d="M503.2 1111.3h0"/><path d="M502.0 1111.2h0"/><path d="M497.8 1111.1h0"/><path d="M499.2 1112.1h0"/><path d="M509.5 1109.8h0"/><path d="M513.5 1108.0h0"/><path d="M516.0 1110.9h0"/><path d="M520.0 1112.5h0"/><path d="M518.0 1113.0h0"/><path d="M516.1 1107.3h0"/><path d="M518.3 1110.9h0"/><path d="M527.4 1114.0h0"/><path d="M522.8 1112.6h0"/><path d="M527.4 1113.6h0"/><path d="M526.2 1113.5h0"/><path d="M533.2 1114.7h0"/><path d="M537.1 1078.2h0"/><path d="M532.5 1104.5h0"/><path d="M548.1 1093.0h0"/><path d="M533.4 1087.9h0"/><path d="M526.0 1078.8h0"/><path d="M537.2 1096.0h0"/><path d="M508.3 1088.3h0"/><path d="M541.0 1090.5h0"/><path d="M548.4 1078.2h0"/><path d="M514.0 1099.7h0"/><path d="M547.5 1094.7h0"/><path d="M534.0 1095.1h0"/><path d="M553.5 1077.4h0"/><path d="M550.0 1100.5h0"/><path d="M552.6 1082.6h0"/><path d="M539.8 1099.5h0"/><path d="M524.8 1107.1h0"/><path d="M533.0 1084.9h0"/><path d="M539.6 1091.8h0"/><path d="M503.3 1096.6h0"/><path d="M534.7 1078.1h0"/><path d="M534.8 1086.9h0"/><path d="M524.4 1083.6h0"/><path d="M526.2 1091.6h0"/><path d="M529.5 1094.0h0"/><path d="M500.0 1136.0h0"/><path d="M502.5 1136.0h0"/><path d="M505.0 1136.0h0"/><path d="M507.5 1136.0h0"/><path d="M510.0 1136.0h0"/><path d="M512.5 1136.0h0"/><path d="M515.0 1136.0h0"/><path d="M517.5 1136.0h0"/><path d="M520.0 1136.0h0"/><path d="M522.5 1136.0h0"/><path d="M525.0 1136.0h0"/><path d="M527.5 1136.0h0"/><path d="M530.0 1136.0h0"/><path d="M532.5 1136.0h0"/><path d="M535.0 1136.0h0"/><path d="M537.5 1136.0h0"/><path d="M540.0 1136.0h0"/><path d="M542.5 1136.0h0"/><path d="M545.0 1136.0h0"/><path d="M547.5 1136.0h0"/><path d="M550.0 1136.0h0"/><path d="M552.5 1136.0h0"/><path d="M555.0 1136.0h0"/><path d="M557.5 1136.0h0"/><path d="M560.0 1136.0h0"/><path d="M562.5 1136.0h0"/><path d="M291.0 1107.8h0"/><path d="M306.0 1116.0h0"/><path d="M313.0 1114.0h0"/><path d="M320.0 1114.5h0"/><path d="M326.0 1113.0h0"/><path d="M332.0 1114.0h0"/><path d="M321.0 1108.0h0"/><path d="M320.0 1134.0h0"/><path d="M337.0 1107.0h0"/><path d="M343.0 1090.0h0"/><path d="M328.0 1122.0h0"/><path d="M342.0 1136.0h0"/><path d="M562.0 1068.5h0"/><path d="M579.0 1085.5h0"/><path d="M598.5 1081.0h0"/><path d="M575.5 1093.0h0"/><path d="M565.0 1098.0h0"/><path d="M570.5 1107.5h0"/><path d="M549.0 1090.5h0"/><path d="M507.0 1091.0h0"/><path d="M551.0 1112.0h0"/><path d="M564.0 1130.0h0"/><path d="M539.0 1135.0h0"/><path d="M550.0 1134.0h0"/><path d="M557.0 1133.0h0"/><path d="M642.8 1062.3h0"/><path d="M520.0 1089.0h0"/><path d="M530.0 1090.0h0"/><path d="M540.0 1094.0h0"/><path d="M505.0 1100.0h0"/><path d="M525.0 1098.0h0"/></g></g>
<rect x="77.7" y="657.9" width="666.70" height="500.00" fill="none" stroke="#333333" stroke-width="1.8"/>
<line x1="152.20" y1="1157.9" x2="152.20" y2="1164.10" stroke="#333333" stroke-width="2.6"/>
<line x1="292.10" y1="1157.9" x2="292.10" y2="1164.10" stroke="#333333" stroke-width="2.6"/>
<line x1="432.00" y1="1157.9" x2="432.00" y2="1164.10" stroke="#333333" stroke-width="2.6"/>
<line x1="571.90" y1="1157.9" x2="571.90" y2="1164.10" stroke="#333333" stroke-width="2.6"/>
<line x1="711.80" y1="1157.9" x2="711.80" y2="1164.10" stroke="#333333" stroke-width="2.6"/>
<line x1="71.50" y1="1136.00" x2="77.7" y2="1136.00" stroke="#333333" stroke-width="2.6"/>
<line x1="71.50" y1="964.95" x2="77.7" y2="964.95" stroke="#333333" stroke-width="2.6"/>
<line x1="71.50" y1="793.90" x2="77.7" y2="793.90" stroke="#333333" stroke-width="2.6"/>
<clipPath id="cp4"><rect x="830.0" y="658.0" width="666.4000000000001" height="499.5999999999999"/></clipPath>
<clipPath id="gp4"><rect x="832.4" y="660.4" width="661.6000000000001" height="494.7999999999999"/></clipPath>
<g clip-path="url(#gp4)">
<line x1="864.51" y1="658.0" x2="864.51" y2="1157.6" stroke="#e6e6e4" stroke-width="1.5"/>
<line x1="1035.37" y1="658.0" x2="1035.37" y2="1157.6" stroke="#e6e6e4" stroke-width="1.5"/>
<line x1="1206.23" y1="658.0" x2="1206.23" y2="1157.6" stroke="#e6e6e4" stroke-width="1.5"/>
<line x1="1377.09" y1="658.0" x2="1377.09" y2="1157.6" stroke="#e6e6e4" stroke-width="1.5"/>
<line x1="830.0" y1="1049.00" x2="1496.4" y2="1049.00" stroke="#e6e6e4" stroke-width="1.5"/>
<line x1="830.0" y1="875.20" x2="1496.4" y2="875.20" stroke="#e6e6e4" stroke-width="1.5"/>
<line x1="830.0" y1="701.40" x2="1496.4" y2="701.40" stroke="#e6e6e4" stroke-width="1.5"/>
<line x1="949.94" y1="658.0" x2="949.94" y2="1157.6" stroke="#e6e6e4" stroke-width="3.1"/>
<line x1="1120.80" y1="658.0" x2="1120.80" y2="1157.6" stroke="#e6e6e4" stroke-width="3.1"/>
<line x1="1291.66" y1="658.0" x2="1291.66" y2="1157.6" stroke="#e6e6e4" stroke-width="3.1"/>
<line x1="1462.52" y1="658.0" x2="1462.52" y2="1157.6" stroke="#e6e6e4" stroke-width="3.1"/>
<line x1="830.0" y1="1135.90" x2="1496.4" y2="1135.90" stroke="#e6e6e4" stroke-width="3.1"/>
<line x1="830.0" y1="962.10" x2="1496.4" y2="962.10" stroke="#e6e6e4" stroke-width="3.1"/>
<line x1="830.0" y1="788.30" x2="1496.4" y2="788.30" stroke="#e6e6e4" stroke-width="3.1"/>
</g>
<g clip-path="url(#cp4)"><g fill="none" stroke="#2c9cbf" stroke-opacity="0.43" stroke-width="7.7" stroke-linecap="round"><path d="M1027.2 1074.2h0"/><path d="M1069.5 1096.7h0"/><path d="M995.5 1108.6h0"/><path d="M1064.7 1101.5h0"/><path d="M1093.8 1116.9h0"/><path d="M1074.5 1109.3h0"/><path d="M1030.8 1104.4h0"/><path d="M994.0 1062.6h0"/><path d="M1093.2 1119.2h0"/><path d="M990.0 1104.2h0"/><path d="M1077.7 1100.6h0"/><path d="M1077.9 1109.2h0"/><path d="M997.5 1060.2h0"/><path d="M1007.5 1097.7h0"/><path d="M1057.0 1107.9h0"/><path d="M1097.4 1115.5h0"/><path d="M1013.3 1099.1h0"/><path d="M1084.3 1106.4h0"/><path d="M1043.5 1099.6h0"/><path d="M1000.0 1091.2h0"/><path d="M1001.8 1114.2h0"/><path d="M1005.4 1119.1h0"/><path d="M1080.0 1108.9h0"/><path d="M1052.8 1108.5h0"/><path d="M1035.1 1108.0h0"/><path d="M1091.4 1112.6h0"/><path d="M998.0 1121.0h0"/><path d="M1069.0 1095.3h0"/><path d="M1008.7 1114.9h0"/><path d="M1036.7 1103.9h0"/><path d="M998.7 1087.5h0"/><path d="M1061.9 1090.0h0"/><path d="M1097.4 1120.7h0"/><path d="M1036.9 1088.2h0"/><path d="M1101.4 1121.2h0"/><path d="M1100.9 1120.9h0"/><path d="M1045.0 1106.1h0"/><path d="M987.1 1094.7h0"/><path d="M995.3 1082.6h0"/><path d="M1082.1 1103.3h0"/><path d="M1037.7 1096.0h0"/><path d="M1056.4 1093.2h0"/><path d="M992.9 1124.7h0"/><path d="M1029.6 1107.8h0"/><path d="M1068.3 1102.2h0"/><path d="M1039.4 1095.9h0"/><path d="M987.4 1068.4h0"/><path d="M1065.7 1101.4h0"/><path d="M1024.9 1090.4h0"/><path d="M984.6 1098.0h0"/><path d="M989.4 1101.9h0"/><path d="M996.6 1112.2h0"/><path d="M1007.3 1089.1h0"/><path d="M1021.0 1076.3h0"/><path d="M1011.2 1110.9h0"/><path d="M1044.2 1091.7h0"/><path d="M1004.4 1110.8h0"/><path d="M1016.5 1112.3h0"/><path d="M1007.9 1114.6h0"/><path d="M1095.2 1116.6h0"/><path d="M1047.2 1107.6h0"/><path d="M1051.8 1106.3h0"/><path d="M1029.9 1096.3h0"/><path d="M989.8 1098.4h0"/><path d="M1000.1 1116.2h0"/><path d="M1068.0 1107.3h0"/><path d="M1023.1 1106.8h0"/><path d="M1005.8 1119.5h0"/><path d="M1021.0 1095.1h0"/><path d="M990.8 1084.5h0"/><path d="M1085.0 1111.0h0"/><path d="M1076.0 1111.4h0"/><path d="M1102.1 1121.4h0"/><path d="M985.5 1088.7h0"/><path d="M1026.4 1110.1h0"/><path d="M1083.8 1106.0h0"/><path d="M1003.1 1112.8h0"/><path d="M995.1 1103.9h0"/><path d="M1085.8 1107.0h0"/><path d="M1038.1 1106.4h0"/><path d="M1039.0 1092.2h0"/><path d="M1054.5 1088.7h0"/><path d="M1015.9 1085.2h0"/><path d="M985.2 1110.8h0"/><path d="M1063.2 1095.2h0"/><path d="M1034.4 1102.2h0"/><path d="M1007.5 1100.5h0"/><path d="M1003.1 1110.6h0"/><path d="M1087.0 1115.0h0"/><path d="M1091.6 1117.8h0"/><path d="M993.4 1109.9h0"/><path d="M1022.5 1089.6h0"/><path d="M1006.9 1104.5h0"/><path d="M1066.7 1106.2h0"/><path d="M1006.1 1075.0h0"/><path d="M995.7 1103.8h0"/><path d="M1057.6 1089.6h0"/><path d="M1030.6 1087.0h0"/><path d="M1068.2 1103.5h0"/><path d="M988.5 1116.0h0"/><path d="M1055.2 1091.6h0"/><path d="M1087.7 1115.0h0"/><path d="M1013.2 1081.9h0"/><path d="M1043.4 1098.0h0"/><path d="M1016.9 1103.2h0"/><path d="M1064.3 1100.8h0"/><path d="M1046.6 1100.9h0"/><path d="M1023.1 1095.7h0"/><path d="M1016.5 1078.7h0"/><path d="M1069.5 1108.8h0"/><path d="M1031.2 1082.6h0"/><path d="M1049.5 1092.1h0"/><path d="M1103.2 1119.6h0"/><path d="M1013.7 1105.7h0"/><path d="M1027.6 1091.4h0"/><path d="M997.5 1081.0h0"/><path d="M1009.8 1115.2h0"/><path d="M1034.0 1106.2h0"/><path d="M1070.6 1109.2h0"/><path d="M1032.5 1100.3h0"/><path d="M1065.3 1096.9h0"/><path d="M1082.5 1106.1h0"/><path d="M1011.7 1109.4h0"/><path d="M994.4 1072.4h0"/><path d="M1092.0 1117.0h0"/><path d="M1027.0 1079.0h0"/><path d="M1080.1 1113.5h0"/><path d="M1007.7 1113.7h0"/><path d="M993.0 1114.5h0"/><path d="M1047.9 1091.1h0"/><path d="M1018.5 1102.3h0"/><path d="M1020.3 1099.0h0"/><path d="M1008.2 1086.5h0"/><path d="M1014.5 1114.9h0"/><path d="M1037.4 1102.6h0"/><path d="M981.5 1081.1h0"/><path d="M1019.3 1087.6h0"/><path d="M1083.2 1103.5h0"/><path d="M1041.2 1080.3h0"/><path d="M1037.4 1107.8h0"/><path d="M1002.5 1118.4h0"/><path d="M1009.8 1100.9h0"/><path d="M1012.4 1105.3h0"/><path d="M1049.8 1107.8h0"/><path d="M1001.0 1099.2h0"/><path d="M1071.4 1100.4h0"/><path d="M1084.6 1113.4h0"/><path d="M1024.8 1099.3h0"/><path d="M1088.3 1115.8h0"/><path d="M1039.0 1080.2h0"/><path d="M1014.7 1114.4h0"/><path d="M1059.1 1099.6h0"/><path d="M999.2 1069.9h0"/><path d="M1003.5 1093.8h0"/><path d="M1092.5 1111.0h0"/><path d="M1029.9 1093.8h0"/><path d="M983.5 1069.6h0"/><path d="M1030.3 1107.4h0"/><path d="M1062.3 1107.9h0"/><path d="M991.8 1070.2h0"/><path d="M1043.7 1104.4h0"/><path d="M1026.9 1104.9h0"/><path d="M1056.8 1101.9h0"/><path d="M1045.2 1107.3h0"/><path d="M1045.1 1100.8h0"/><path d="M1025.5 1109.5h0"/><path d="M1075.1 1104.6h0"/><path d="M1051.6 1108.9h0"/><path d="M1027.6 1099.6h0"/><path d="M1026.9 1086.2h0"/><path d="M1084.5 1111.6h0"/><path d="M998.0 1120.9h0"/><path d="M1067.4 1104.5h0"/><path d="M1001.2 1115.3h0"/><path d="M985.3 1106.7h0"/><path d="M1026.3 1104.3h0"/><path d="M1078.0 1109.0h0"/><path d="M1062.3 1107.0h0"/><path d="M1021.7 1088.4h0"/><path d="M1043.3 1101.0h0"/><path d="M1040.8 1101.3h0"/><path d="M1056.0 1093.7h0"/><path d="M990.8 1065.3h0"/><path d="M1000.3 1095.9h0"/><path d="M994.9 1112.8h0"/><path d="M996.8 1118.6h0"/><path d="M1079.4 1114.0h0"/><path d="M1072.9 1102.1h0"/><path d="M1044.6 1095.4h0"/><path d="M1051.9 1102.7h0"/><path d="M987.1 1095.8h0"/><path d="M982.9 1080.2h0"/><path d="M1078.8 1109.5h0"/><path d="M1029.7 1095.0h0"/><path d="M1020.9 1101.9h0"/><path d="M1039.2 1098.9h0"/><path d="M1050.5 1102.5h0"/><path d="M993.6 1125.0h0"/><path d="M1079.0 1099.3h0"/><path d="M988.9 1105.4h0"/><path d="M1061.4 1092.2h0"/><path d="M1016.6 1093.6h0"/><path d="M1002.0 1076.2h0"/><path d="M1071.6 1097.1h0"/><path d="M1053.8 1108.6h0"/><path d="M1085.5 1111.9h0"/><path d="M1081.8 1107.2h0"/><path d="M1039.0 1088.8h0"/><path d="M1046.5 1107.1h0"/><path d="M1089.0 1109.9h0"/><path d="M978.7 1075.6h0"/><path d="M1006.9 1111.5h0"/><path d="M1055.6 1096.9h0"/><path d="M999.7 1082.1h0"/><path d="M1004.4 1088.4h0"/><path d="M1074.0 1097.8h0"/><path d="M1009.7 1063.9h0"/><path d="M1106.1 1123.8h0"/><path d="M1045.2 1106.2h0"/><path d="M1017.9 1112.9h0"/><path d="M1062.5 1096.7h0"/><path d="M997.9 1113.5h0"/><path d="M1057.2 1103.3h0"/><path d="M1001.1 1091.3h0"/><path d="M1079.2 1108.4h0"/><path d="M1014.6 1074.5h0"/><path d="M1024.7 1109.6h0"/><path d="M1018.7 1108.6h0"/><path d="M989.8 1083.6h0"/><path d="M1065.8 1103.8h0"/><path d="M984.0 1118.6h0"/><path d="M1021.5 1094.6h0"/><path d="M1030.8 1110.1h0"/><path d="M1024.0 1094.9h0"/><path d="M981.4 1090.8h0"/><path d="M1016.8 1067.5h0"/><path d="M1005.3 1109.5h0"/><path d="M1000.9 1121.1h0"/><path d="M1002.8 1115.0h0"/><path d="M1023.2 1109.5h0"/><path d="M1041.2 1106.9h0"/><path d="M1013.7 1113.5h0"/><path d="M1086.4 1115.7h0"/><path d="M1040.6 1093.9h0"/><path d="M1024.5 1069.8h0"/><path d="M990.5 1101.2h0"/><path d="M1031.9 1109.6h0"/><path d="M1036.1 1090.2h0"/><path d="M1038.4 1102.0h0"/><path d="M1059.1 1106.0h0"/><path d="M1034.6 1108.9h0"/><path d="M990.3 1118.7h0"/><path d="M985.6 1062.9h0"/><path d="M1062.4 1106.9h0"/><path d="M997.6 1097.0h0"/><path d="M1066.5 1106.2h0"/><path d="M1041.0 1092.4h0"/><path d="M1042.3 1094.7h0"/><path d="M1073.8 1099.1h0"/><path d="M1007.1 1070.8h0"/><path d="M1045.0 1105.3h0"/><path d="M1011.9 1097.4h0"/><path d="M1010.3 1082.9h0"/><path d="M1046.0 1104.2h0"/><path d="M1034.5 1099.5h0"/><path d="M1073.8 1105.7h0"/><path d="M1021.3 1081.3h0"/><path d="M1018.6 1110.8h0"/><path d="M1031.4 1096.9h0"/><path d="M1026.2 1106.2h0"/><path d="M1080.1 1100.2h0"/><path d="M1083.6 1115.4h0"/><path d="M1046.1 1085.4h0"/><path d="M1074.4 1097.3h0"/><path d="M1008.2 1078.4h0"/><path d="M1078.4 1110.8h0"/><path d="M1015.4 1110.5h0"/><path d="M1001.8 1119.4h0"/><path d="M1028.3 1102.0h0"/><path d="M1069.9 1102.8h0"/><path d="M1060.1 1100.5h0"/><path d="M1004.1 1101.9h0"/><path d="M1003.2 1068.5h0"/><path d="M1046.1 1101.6h0"/><path d="M995.1 1066.6h0"/><path d="M1087.8 1114.2h0"/><path d="M1097.5 1117.1h0"/><path d="M992.0 1120.1h0"/><path d="M1039.4 1104.8h0"/><path d="M1021.9 1068.1h0"/><path d="M1085.4 1110.4h0"/><path d="M990.4 1103.7h0"/><path d="M1027.7 1097.5h0"/><path d="M1016.3 1076.9h0"/><path d="M1005.0 1109.2h0"/><path d="M1003.9 1119.9h0"/><path d="M1096.7 1118.0h0"/><path d="M1059.9 1103.1h0"/><path d="M1061.1 1108.3h0"/><path d="M1026.4 1103.6h0"/><path d="M985.5 1072.7h0"/><path d="M1049.5 1094.7h0"/><path d="M1001.2 1109.5h0"/><path d="M1050.3 1100.7h0"/><path d="M1015.1 1074.7h0"/><path d="M1007.2 1116.8h0"/><path d="M985.6 1112.3h0"/><path d="M1024.5 1089.0h0"/><path d="M1085.2 1114.7h0"/><path d="M1008.4 1115.4h0"/><path d="M1090.7 1110.2h0"/><path d="M1005.8 1115.0h0"/><path d="M1038.5 1097.4h0"/><path d="M1099.5 1117.4h0"/><path d="M1084.6 1109.8h0"/><path d="M1077.1 1101.2h0"/><path d="M1089.0 1108.3h0"/><path d="M1050.3 1101.2h0"/><path d="M1028.2 1107.8h0"/><path d="M993.1 1115.8h0"/><path d="M1085.1 1115.9h0"/><path d="M1100.9 1119.9h0"/><path d="M1011.5 1073.2h0"/><path d="M1029.5 1099.0h0"/><path d="M1004.3 1065.9h0"/><path d="M1042.2 1103.2h0"/><path d="M983.7 1076.0h0"/><path d="M993.2 1117.6h0"/><path d="M986.3 1074.6h0"/><path d="M989.4 1122.4h0"/><path d="M1027.0 1109.6h0"/><path d="M1106.6 1121.7h0"/><path d="M1067.6 1110.5h0"/><path d="M1032.0 1100.8h0"/><path d="M996.7 1112.8h0"/><path d="M1072.3 1104.9h0"/><path d="M1019.2 1097.4h0"/><path d="M1005.6 1117.8h0"/><path d="M1091.2 1114.4h0"/><path d="M999.8 1097.4h0"/><path d="M1035.1 1103.2h0"/><path d="M1086.3 1107.4h0"/><path d="M997.9 1112.4h0"/><path d="M1085.4 1110.8h0"/><path d="M1042.2 1101.2h0"/><path d="M1021.1 1071.9h0"/><path d="M990.0 1088.0h0"/><path d="M1021.2 1070.5h0"/><path d="M1088.9 1110.9h0"/><path d="M998.0 1113.8h0"/><path d="M984.8 1119.7h0"/><path d="M1000.7 1118.9h0"/><path d="M1035.0 1106.6h0"/><path d="M1084.9 1112.3h0"/><path d="M1041.0 1099.0h0"/><path d="M1064.3 1106.5h0"/><path d="M1022.7 1107.8h0"/><path d="M1024.5 1082.2h0"/><path d="M1029.0 1091.6h0"/><path d="M1014.5 1111.3h0"/><path d="M1016.4 1103.1h0"/><path d="M990.0 1119.8h0"/><path d="M1020.9 1084.3h0"/><path d="M1007.2 1093.2h0"/><path d="M1090.3 1113.7h0"/><path d="M1001.9 1116.2h0"/><path d="M1023.8 1103.6h0"/><path d="M983.5 1083.8h0"/><path d="M1036.1 1102.9h0"/><path d="M1173.9 1104.8h0"/><path d="M1215.5 1108.7h0"/><path d="M1244.7 1113.9h0"/><path d="M1186.6 1105.2h0"/><path d="M1250.8 1086.8h0"/><path d="M1239.1 1088.4h0"/><path d="M1181.4 1104.1h0"/><path d="M1243.5 1080.1h0"/><path d="M1159.6 1112.8h0"/><path d="M1248.0 1088.5h0"/><path d="M1211.3 1110.6h0"/><path d="M1189.2 1100.4h0"/><path d="M1240.8 1071.7h0"/><path d="M1213.1 1109.7h0"/><path d="M1217.5 1106.6h0"/><path d="M1198.1 1100.0h0"/><path d="M1248.7 1084.6h0"/><path d="M1174.4 1103.7h0"/><path d="M1236.8 1103.9h0"/><path d="M1241.2 1121.5h0"/><path d="M1239.5 1074.4h0"/><path d="M1182.7 1104.2h0"/><path d="M1186.5 1101.6h0"/><path d="M1194.4 1099.5h0"/><path d="M1203.1 1089.8h0"/><path d="M1239.6 1070.2h0"/><path d="M1208.7 1103.6h0"/><path d="M1228.6 1093.6h0"/><path d="M1234.6 1113.4h0"/><path d="M1219.4 1109.8h0"/><path d="M1209.3 1103.1h0"/><path d="M1177.4 1108.0h0"/><path d="M1211.7 1087.9h0"/><path d="M1216.2 1108.1h0"/><path d="M1236.2 1085.4h0"/><path d="M1212.1 1101.4h0"/><path d="M1226.7 1087.1h0"/><path d="M1195.3 1098.6h0"/><path d="M1243.5 1076.2h0"/><path d="M1223.5 1114.2h0"/><path d="M1235.0 1126.4h0"/><path d="M1165.9 1106.2h0"/><path d="M1176.0 1108.4h0"/><path d="M1242.1 1127.5h0"/><path d="M1228.0 1103.2h0"/><path d="M1192.8 1094.4h0"/><path d="M1219.1 1085.3h0"/><path d="M1245.6 1071.1h0"/><path d="M1229.1 1077.9h0"/><path d="M1228.0 1104.5h0"/><path d="M1176.4 1107.8h0"/><path d="M1188.4 1108.6h0"/><path d="M1212.9 1108.2h0"/><path d="M1242.4 1086.9h0"/><path d="M1165.0 1113.0h0"/><path d="M1256.2 1073.0h0"/><path d="M1217.3 1079.0h0"/><path d="M1229.8 1108.6h0"/><path d="M1165.7 1107.6h0"/><path d="M1221.8 1093.4h0"/><path d="M1225.7 1119.8h0"/><path d="M1172.8 1108.2h0"/><path d="M1156.8 1111.6h0"/><path d="M1202.3 1110.0h0"/><path d="M1189.2 1107.9h0"/><path d="M1200.8 1108.0h0"/><path d="M1227.4 1111.6h0"/><path d="M1220.3 1106.8h0"/><path d="M1215.8 1110.7h0"/><path d="M1234.1 1082.4h0"/><path d="M1202.0 1106.4h0"/><path d="M1255.4 1065.8h0"/><path d="M1222.6 1101.0h0"/><path d="M1238.5 1075.5h0"/><path d="M1236.2 1072.9h0"/><path d="M1247.7 1081.7h0"/><path d="M1246.4 1068.4h0"/><path d="M1196.2 1107.4h0"/><path d="M1252.1 1063.3h0"/><path d="M1182.3 1103.6h0"/><path d="M1223.6 1113.4h0"/><path d="M1201.9 1088.0h0"/><path d="M1198.9 1105.9h0"/><path d="M1216.5 1098.4h0"/><path d="M1190.7 1099.6h0"/><path d="M1243.2 1077.3h0"/><path d="M1214.3 1086.9h0"/><path d="M1193.8 1108.7h0"/><path d="M1243.7 1116.0h0"/><path d="M1230.0 1088.1h0"/><path d="M1242.1 1116.7h0"/><path d="M1214.1 1103.7h0"/><path d="M1247.1 1103.2h0"/><path d="M1189.8 1109.4h0"/><path d="M1162.4 1106.8h0"/><path d="M1209.9 1104.5h0"/><path d="M1163.1 1113.5h0"/><path d="M1236.8 1116.3h0"/><path d="M1201.4 1096.4h0"/><path d="M1241.9 1115.7h0"/><path d="M1223.5 1115.0h0"/><path d="M1229.6 1090.3h0"/><path d="M1239.3 1090.9h0"/><path d="M1199.2 1102.3h0"/><path d="M1197.8 1105.8h0"/><path d="M1232.9 1081.9h0"/><path d="M1203.1 1108.1h0"/><path d="M1247.2 1081.9h0"/><path d="M1212.0 1081.1h0"/><path d="M1198.9 1107.7h0"/><path d="M1226.7 1126.6h0"/><path d="M1164.5 1111.0h0"/><path d="M1194.6 1098.4h0"/><path d="M1227.0 1118.9h0"/><path d="M1212.7 1102.1h0"/><path d="M1201.5 1107.0h0"/><path d="M1179.6 1103.7h0"/><path d="M1210.7 1094.2h0"/><path d="M1206.8 1103.2h0"/><path d="M1200.4 1092.9h0"/><path d="M1194.3 1102.3h0"/><path d="M1232.0 1113.0h0"/><path d="M1196.1 1099.1h0"/><path d="M1231.8 1107.5h0"/><path d="M1231.4 1100.0h0"/><path d="M1168.3 1107.0h0"/><path d="M1256.3 1065.9h0"/><path d="M1187.8 1105.7h0"/><path d="M1228.3 1101.9h0"/><path d="M1174.8 1108.8h0"/><path d="M1239.5 1077.7h0"/><path d="M1248.6 1092.4h0"/><path d="M1245.6 1091.7h0"/><path d="M1172.5 1111.0h0"/><path d="M1229.4 1080.4h0"/><path d="M1168.9 1111.8h0"/><path d="M1211.1 1105.8h0"/><path d="M1234.0 1099.6h0"/><path d="M1233.5 1087.0h0"/><path d="M1167.8 1105.5h0"/><path d="M1185.1 1108.9h0"/><path d="M1208.4 1093.8h0"/><path d="M1211.6 1104.2h0"/><path d="M1177.5 1108.9h0"/><path d="M1225.3 1102.4h0"/><path d="M1252.1 1065.7h0"/><path d="M1230.4 1086.7h0"/><path d="M1199.5 1106.9h0"/><path d="M1239.8 1109.3h0"/><path d="M1169.0 1109.2h0"/><path d="M1233.4 1080.8h0"/><path d="M1201.4 1097.9h0"/><path d="M1198.3 1092.9h0"/><path d="M1220.8 1100.8h0"/><path d="M1184.1 1108.0h0"/><path d="M1202.8 1109.0h0"/><path d="M1184.0 1107.9h0"/><path d="M1224.5 1109.5h0"/><path d="M1211.1 1103.9h0"/><path d="M1172.3 1104.1h0"/><path d="M1194.8 1108.7h0"/><path d="M1234.8 1116.2h0"/><path d="M1172.1 1107.9h0"/><path d="M1221.9 1107.9h0"/><path d="M1206.4 1107.3h0"/><path d="M1244.4 1093.2h0"/><path d="M1155.4 1112.8h0"/><path d="M1179.5 1109.2h0"/><path d="M1202.4 1105.8h0"/><path d="M1246.3 1089.8h0"/><path d="M1166.5 1104.8h0"/><path d="M1185.6 1108.4h0"/><path d="M1224.1 1108.7h0"/><path d="M1176.9 1107.0h0"/><path d="M1197.3 1107.4h0"/><path d="M1258.0 1080.6h0"/><path d="M1207.0 1100.8h0"/><path d="M1207.7 1103.3h0"/><path d="M1197.7 1108.5h0"/><path d="M1211.0 1102.4h0"/><path d="M1243.8 1107.0h0"/><path d="M1229.9 1108.5h0"/><path d="M1238.1 1109.9h0"/><path d="M1240.8 1077.6h0"/><path d="M1230.4 1099.5h0"/><path d="M1207.0 1098.8h0"/><path d="M1215.1 1110.0h0"/><path d="M1197.8 1109.9h0"/><path d="M1188.0 1097.8h0"/><path d="M1185.4 1102.8h0"/><path d="M1235.7 1075.6h0"/><path d="M1245.4 1110.4h0"/><path d="M1229.1 1110.9h0"/><path d="M1244.0 1081.6h0"/><path d="M1208.5 1106.8h0"/><path d="M1192.9 1103.4h0"/><path d="M1197.3 1097.6h0"/><path d="M1253.0 1072.5h0"/><path d="M1255.6 1086.5h0"/><path d="M1161.8 1109.0h0"/><path d="M1256.7 1063.3h0"/><path d="M1219.5 1092.8h0"/><path d="M1224.8 1101.2h0"/><path d="M1205.8 1105.6h0"/><path d="M1158.8 1112.2h0"/><path d="M1165.2 1112.5h0"/><path d="M1219.0 1107.9h0"/><path d="M1249.9 1081.9h0"/><path d="M1206.1 1108.1h0"/><path d="M1242.3 1095.1h0"/><path d="M1207.6 1103.7h0"/><path d="M1234.4 1107.6h0"/><path d="M1203.3 1106.8h0"/><path d="M1193.2 1104.6h0"/><path d="M1180.7 1109.2h0"/><path d="M1226.9 1109.9h0"/><path d="M1220.9 1127.1h0"/><path d="M1223.3 1124.0h0"/><path d="M1235.4 1128.3h0"/><path d="M1230.4 1124.5h0"/><path d="M1220.4 1123.6h0"/><path d="M1228.6 1129.1h0"/><path d="M1232.6 1127.8h0"/><path d="M1230.0 1120.3h0"/><path d="M1239.6 1128.7h0"/><path d="M1228.6 1119.2h0"/><path d="M1231.8 1124.4h0"/><path d="M1237.8 1125.8h0"/><path d="M1231.7 1125.5h0"/><path d="M1228.7 1118.6h0"/><path d="M1221.4 1130.2h0"/><path d="M1239.3 1121.9h0"/><path d="M1240.4 1124.8h0"/><path d="M1222.4 1129.1h0"/><path d="M1233.4 1130.1h0"/><path d="M1235.6 1119.2h0"/><path d="M1234.3 1128.2h0"/><path d="M1240.7 1122.3h0"/><path d="M1232.2 1127.1h0"/><path d="M1223.8 1129.0h0"/><path d="M1238.0 1118.7h0"/><path d="M1233.6 1122.8h0"/><path d="M1224.3 1125.9h0"/><path d="M1242.3 1125.2h0"/><path d="M1222.6 1124.4h0"/><path d="M1237.9 1130.4h0"/><path d="M1236.4 1118.5h0"/><path d="M1242.2 1125.8h0"/><path d="M1221.9 1119.7h0"/><path d="M1222.0 1126.6h0"/><path d="M1223.5 1128.5h0"/><path d="M1222.5 1125.0h0"/><path d="M1230.2 1118.5h0"/><path d="M1220.1 1129.7h0"/><path d="M1242.5 1119.6h0"/><path d="M1236.9 1130.9h0"/><path d="M1240.8 1129.5h0"/><path d="M1227.8 1127.3h0"/><path d="M1231.5 1130.2h0"/><path d="M1236.2 1129.0h0"/><path d="M1239.7 1123.0h0"/><path d="M1236.4 1119.2h0"/><path d="M1224.7 1130.2h0"/><path d="M1229.3 1126.9h0"/><path d="M1233.2 1121.4h0"/><path d="M1233.5 1129.9h0"/><path d="M1227.5 1122.5h0"/><path d="M1224.3 1120.3h0"/><path d="M1239.0 1127.2h0"/><path d="M1242.2 1126.7h0"/><path d="M1242.1 1120.9h0"/><path d="M1224.3 1120.8h0"/><path d="M1228.8 1130.9h0"/><path d="M1225.2 1124.0h0"/><path d="M1221.4 1118.4h0"/><path d="M1027.5 1124.6h0"/><path d="M1018.2 1131.0h0"/><path d="M1007.1 1126.2h0"/><path d="M1009.9 1130.6h0"/><path d="M1028.5 1126.4h0"/><path d="M1014.8 1121.2h0"/><path d="M1023.2 1126.6h0"/><path d="M1003.4 1122.2h0"/><path d="M1015.7 1129.9h0"/><path d="M1010.4 1131.2h0"/><path d="M1005.7 1123.2h0"/><path d="M1024.0 1121.9h0"/><path d="M1003.6 1122.5h0"/><path d="M1018.9 1129.0h0"/><path d="M1017.4 1124.1h0"/><path d="M1023.3 1127.0h0"/><path d="M1018.1 1121.4h0"/><path d="M1022.2 1121.6h0"/><path d="M1009.3 1127.0h0"/><path d="M1024.0 1124.1h0"/><path d="M1002.7 1124.5h0"/><path d="M1020.2 1120.9h0"/><path d="M1011.8 1129.9h0"/><path d="M1025.4 1129.2h0"/><path d="M1014.6 1128.9h0"/><path d="M1004.6 1124.4h0"/><path d="M1009.9 1128.2h0"/><path d="M1022.5 1131.6h0"/><path d="M1007.7 1124.4h0"/><path d="M1009.5 1126.8h0"/><path d="M1010.2 1131.5h0"/><path d="M1028.7 1128.3h0"/><path d="M1023.6 1123.1h0"/><path d="M1028.5 1130.9h0"/><path d="M1018.8 1129.0h0"/><path d="M1020.4 1129.3h0"/><path d="M1007.1 1126.6h0"/><path d="M1018.8 1129.4h0"/><path d="M1006.6 1123.8h0"/><path d="M1004.8 1125.9h0"/><path d="M1007.9 1127.8h0"/><path d="M1010.2 1123.2h0"/><path d="M1018.3 1131.1h0"/><path d="M1015.2 1125.7h0"/><path d="M1008.4 1122.4h0"/><path d="M1028.2 1125.7h0"/><path d="M1016.4 1121.5h0"/><path d="M1022.0 1130.1h0"/><path d="M1029.0 1125.0h0"/><path d="M1003.9 1128.6h0"/><path d="M1025.1 1130.7h0"/><path d="M1002.1 1127.7h0"/><path d="M1003.3 1126.3h0"/><path d="M1004.0 1127.0h0"/><path d="M1008.6 1125.8h0"/><path d="M1019.3 1130.0h0"/><path d="M1233.2 1119.6h0"/><path d="M1236.2 1117.9h0"/><path d="M1237.9 1118.8h0"/><path d="M1224.2 1119.4h0"/><path d="M1223.7 1113.0h0"/><path d="M1230.7 1130.3h0"/><path d="M1237.0 1121.9h0"/><path d="M1239.5 1115.6h0"/><path d="M1238.2 1118.2h0"/><path d="M1233.9 1124.8h0"/><path d="M1240.4 1122.2h0"/><path d="M1245.1 1115.8h0"/><path d="M1224.0 1117.7h0"/><path d="M1233.5 1118.7h0"/><path d="M1238.7 1116.1h0"/><path d="M1241.8 1128.6h0"/><path d="M1229.3 1125.9h0"/><path d="M1245.4 1123.1h0"/><path d="M1242.6 1116.7h0"/><path d="M1245.4 1115.8h0"/><path d="M1239.1 1116.2h0"/><path d="M1238.4 1111.8h0"/><path d="M1232.1 1126.6h0"/><path d="M1230.5 1125.6h0"/><path d="M1246.2 1123.1h0"/><path d="M1241.2 1115.1h0"/><path d="M1237.1 1130.2h0"/><path d="M1235.9 1130.6h0"/><path d="M1238.9 1127.1h0"/><path d="M1225.4 1116.3h0"/><path d="M1246.6 1121.9h0"/><path d="M1245.7 1119.7h0"/><path d="M1230.7 1123.9h0"/><path d="M1238.0 1124.5h0"/><path d="M1236.7 1125.2h0"/><path d="M1246.2 1117.3h0"/><path d="M1223.6 1115.9h0"/><path d="M1228.1 1129.4h0"/><path d="M1226.7 1113.7h0"/><path d="M1245.8 1117.9h0"/><path d="M1234.4 1116.3h0"/><path d="M1224.2 1114.6h0"/><path d="M1237.8 1120.8h0"/><path d="M1245.7 1127.2h0"/><path d="M1238.3 1122.3h0"/><path d="M1223.3 1112.5h0"/><path d="M1232.8 1128.3h0"/><path d="M1248.4 1115.7h0"/><path d="M1224.8 1113.5h0"/><path d="M1238.9 1115.8h0"/><path d="M1249.0 1121.7h0"/><path d="M1238.9 1126.2h0"/><path d="M1225.3 1120.8h0"/><path d="M1239.1 1130.1h0"/><path d="M1235.0 1118.1h0"/><path d="M1231.8 1127.9h0"/><path d="M1237.2 1113.8h0"/><path d="M1236.4 1126.7h0"/><path d="M1246.9 1119.7h0"/><path d="M1239.4 1126.3h0"/><path d="M1224.9 1126.8h0"/><path d="M1245.7 1120.8h0"/><path d="M1226.3 1115.9h0"/><path d="M1246.1 1114.3h0"/><path d="M1223.7 1113.0h0"/><path d="M1236.3 1120.2h0"/><path d="M1231.0 1121.9h0"/><path d="M1243.2 1129.4h0"/><path d="M1250.9 1114.8h0"/><path d="M1242.7 1111.8h0"/><path d="M859.3 679.5h0"/><path d="M889.8 821.0h0"/><path d="M909.2 831.7h0"/><path d="M928.6 851.5h0"/><path d="M936.2 935.6h0"/><path d="M970.1 967.2h0"/><path d="M1008.9 993.1h0"/><path d="M999.3 1004.6h0"/><path d="M946.8 1009.7h0"/><path d="M965.3 1010.7h0"/><path d="M1009.3 1028.8h0"/><path d="M1015.1 1028.3h0"/><path d="M1035.0 1027.2h0"/><path d="M960.3 1034.7h0"/><path d="M967.8 1031.2h0"/><path d="M982.1 1035.6h0"/><path d="M992.7 1035.4h0"/><path d="M978.3 1040.5h0"/><path d="M992.3 1045.2h0"/><path d="M978.3 1047.9h0"/><path d="M1024.3 1042.6h0"/><path d="M1025.0 1045.4h0"/><path d="M1038.0 1042.1h0"/><path d="M999.1 1050.5h0"/><path d="M944.5 1058.9h0"/><path d="M965.7 1055.4h0"/><path d="M974.1 1057.5h0"/><path d="M1022.4 1055.0h0"/><path d="M1033.4 1056.1h0"/><path d="M1039.0 1053.3h0"/><path d="M1052.7 1065.0h0"/><path d="M986.0 1055.7h0"/><path d="M988.8 1058.9h0"/><path d="M990.7 1061.7h0"/><path d="M995.3 1058.9h0"/><path d="M1003.7 1058.9h0"/><path d="M1019.1 1059.4h0"/><path d="M1021.5 1066.4h0"/><path d="M912.6 1059.7h0"/><path d="M953.0 1083.3h0"/><path d="M959.0 1100.8h0"/><path d="M969.0 1104.6h0"/><path d="M970.8 1108.0h0"/><path d="M984.6 1111.1h0"/><path d="M984.2 1122.4h0"/><path d="M998.0 1126.7h0"/><path d="M1040.5 1072.1h0"/><path d="M1038.8 1080.8h0"/><path d="M1054.0 1074.3h0"/><path d="M1048.3 1079.5h0"/><path d="M1063.0 1093.4h0"/><path d="M1050.0 1088.2h0"/><path d="M1055.2 1087.7h0"/><path d="M1074.0 1086.4h0"/><path d="M1078.7 1086.9h0"/><path d="M1078.7 1092.0h0"/><path d="M1076.8 1100.4h0"/><path d="M1088.0 1110.7h0"/><path d="M1100.0 1119.0h0"/><path d="M1139.3 1119.0h0"/><path d="M1158.0 1107.9h0"/><path d="M1164.5 1107.0h0"/><path d="M1171.0 1099.5h0"/><path d="M1177.6 1099.5h0"/><path d="M1180.9 1083.6h0"/><path d="M1186.0 1086.9h0"/><path d="M1185.5 1095.7h0"/><path d="M1195.3 1090.1h0"/><path d="M1199.1 1082.2h0"/><path d="M1232.9 1054.9h0"/><path d="M1240.4 1053.1h0"/><path d="M1241.8 1057.7h0"/><path d="M1247.4 1042.8h0"/><path d="M1252.5 1051.7h0"/><path d="M1284.3 1052.6h0"/><path d="M1270.3 1060.5h0"/><path d="M1281.9 1060.5h0"/><path d="M1281.9 1068.0h0"/><path d="M1300.1 1064.3h0"/><path d="M1298.3 1064.3h0"/><path d="M1314.6 1059.6h0"/><path d="M1328.1 1063.8h0"/><path d="M1309.9 1041.4h0"/><path d="M1288.9 1075.5h0"/><path d="M1298.7 1080.1h0"/><path d="M1305.3 1077.8h0"/><path d="M1312.7 1085.7h0"/><path d="M1285.2 1093.7h0"/><path d="M1297.8 1093.7h0"/><path d="M1308.1 1097.4h0"/><path d="M1300.1 1107.2h0"/><path d="M1274.0 1108.6h0"/><path d="M1271.7 1114.7h0"/><path d="M1263.7 1115.6h0"/><path d="M1266.1 1090.4h0"/><path d="M1259.5 1097.4h0"/><path d="M1265.6 1098.8h0"/><path d="M1277.7 1083.9h0"/><path d="M1268.4 1075.5h0"/><path d="M1250.7 1103.5h0"/><path d="M1253.5 1117.5h0"/><path d="M1246.9 1120.3h0"/><path d="M1244.1 1092.3h0"/><path d="M1249.7 1092.3h0"/><path d="M1244.1 1099.7h0"/><path d="M1260.0 1077.3h0"/><path d="M1255.3 1079.2h0"/><path d="M1328.6 946.8h0"/><path d="M1323.3 956.1h0"/><path d="M1317.8 962.1h0"/><path d="M1320.1 963.8h0"/><path d="M1311.4 970.9h0"/><path d="M1302.0 982.3h0"/><path d="M1308.2 982.8h0"/><path d="M1303.7 988.7h0"/><path d="M1306.8 991.6h0"/><path d="M1282.4 992.4h0"/><path d="M1291.8 1009.1h0"/><path d="M1295.7 1009.4h0"/><path d="M1290.0 1014.8h0"/><path d="M1290.0 1018.2h0"/><path d="M1287.8 1021.6h0"/><path d="M1277.4 1014.2h0"/><path d="M1279.9 1020.5h0"/><path d="M1275.9 1024.4h0"/><path d="M1272.5 1031.8h0"/><path d="M1280.4 1033.2h0"/><path d="M1277.6 1027.8h0"/><path d="M1263.4 1038.9h0"/><path d="M1269.1 1039.7h0"/><path d="M1274.8 1040.3h0"/><path d="M1254.0 1029.0h0"/><path d="M1264.0 1047.1h0"/><path d="M1268.5 1049.4h0"/><path d="M1261.7 1053.3h0"/><path d="M1261.2 1057.9h0"/><path d="M1318.7 1016.2h0"/><path d="M1342.5 1030.4h0"/><path d="M1362.9 1019.6h0"/><path d="M1373.0 1037.7h0"/><path d="M1331.4 1058.4h0"/><path d="M1466.8 852.0h0"/><path d="M1369.2 858.4h0"/><path d="M1362.2 872.8h0"/><path d="M1385.2 885.6h0"/><path d="M1354.2 895.9h0"/><path d="M1327.0 932.2h0"/><path d="M1333.4 930.8h0"/><path d="M1331.5 1059.8h0"/><path d="M1040.7 1042.0h0"/><path d="M1040.7 1053.3h0"/><path d="M1042.0 1072.7h0"/><path d="M1040.7 1080.7h0"/><path d="M1206.7 1078.0h0"/><path d="M1222.7 1074.7h0"/><path d="M1216.0 1077.3h0"/><path d="M1466.8 852.0h0"/><path d="M1385.2 885.6h0"/><path d="M978.3 1047.9h0"/><path d="M1053.3 1074.0h0"/><path d="M1042.0 1072.7h0"/></g><path d="M1004.8 1115.3 L1004.1 1118.5 L1008.2 1120.5 L1018.0 1120.5 L1018.1 1120.5 L1027.1 1121.0 L1027.2 1121.0 L1027.2 1121.0 L1027.3 1121.1 L1027.4 1121.1 L1027.5 1121.1 L1027.6 1121.2 L1027.7 1121.3 L1027.7 1121.3 L1027.8 1121.4 L1027.9 1121.5 L1030.9 1126.5 L1030.9 1126.6 L1030.9 1126.7 L1031.0 1126.8 L1031.0 1126.9 L1031.0 1127.0 L1031.0 1127.1 L1031.0 1127.2 L1031.0 1127.2 L1030.9 1127.3 L1028.9 1132.8 L1028.9 1132.9 L1028.9 1133.0 L1028.8 1133.1 L1028.7 1133.2 L1028.7 1133.3 L1028.6 1133.3 L1028.5 1133.4 L1028.4 1133.4 L1028.3 1133.4 L1028.2 1133.5 L1028.1 1133.5 L1028.0 1133.5 L999.3 1134.0 L1000.8 1139.0 L1241.4 1139.0 L1242.9 1136.0 L1241.4 1133.5 L1223.9 1132.0 L1223.8 1132.0 L1223.7 1132.0 L1223.6 1131.9 L1223.5 1131.9 L1223.5 1131.8 L1223.4 1131.8 L1223.3 1131.7 L1223.2 1131.6 L1223.2 1131.6 L1223.1 1131.5 L1223.1 1131.4 L1223.0 1131.3 L1223.0 1131.2 L1223.0 1131.1 L1223.0 1131.0 L1223.0 1130.9 L1224.0 1120.1 L1222.4 1112.2 L1215.8 1110.9 L1208.6 1109.6 L1195.3 1109.4 L1167.5 1111.6 L1158.3 1114.4 L1149.0 1117.1 L1139.7 1120.9 L1130.5 1126.3 L1121.3 1132.6 L1121.2 1132.7 L1121.1 1132.7 L1121.0 1132.8 L1120.9 1132.8 L1120.8 1132.8 L1120.7 1132.8 L1120.6 1132.8 L1120.5 1132.8 L1120.4 1132.8 L1120.3 1132.7 L1120.2 1132.7 L1115.5 1130.2 L1115.5 1130.2 L1106.2 1124.6 L1096.9 1119.9 L1096.8 1119.9 L1087.6 1115.2 L1078.4 1111.6 L1068.9 1109.5 L1061.0 1109.5 L1060.9 1109.5 L1044.0 1108.0 L1026.9 1108.5 L1015.4 1112.9 L1015.2 1113.0 L1004.8 1115.3Z" fill="#cf8878" fill-opacity="1.0"/><g fill="none" stroke="#cf8878" stroke-opacity="0.5" stroke-width="7.7" stroke-linecap="round"><path d="M1099.3 1124.7h0"/><path d="M1208.1 1114.4h0"/><path d="M1038.9 1123.9h0"/><path d="M1092.1 1120.8h0"/><path d="M1167.1 1118.6h0"/><path d="M1151.3 1136.6h0"/><path d="M1115.8 1135.2h0"/><path d="M1046.5 1116.7h0"/><path d="M1162.9 1132.4h0"/><path d="M1172.5 1130.1h0"/><path d="M1158.0 1118.7h0"/><path d="M1200.5 1127.2h0"/><path d="M1142.8 1124.6h0"/><path d="M1057.3 1122.3h0"/><path d="M1191.8 1128.6h0"/><path d="M1084.3 1132.4h0"/><path d="M1039.0 1115.8h0"/><path d="M1156.4 1124.7h0"/><path d="M1049.0 1112.6h0"/><path d="M1082.9 1133.0h0"/><path d="M1044.3 1127.5h0"/><path d="M1201.7 1126.9h0"/><path d="M1071.7 1127.6h0"/><path d="M1067.0 1128.8h0"/><path d="M1202.9 1132.8h0"/><path d="M1068.3 1136.4h0"/><path d="M1064.3 1111.3h0"/><path d="M1124.2 1133.7h0"/><path d="M1145.1 1124.8h0"/><path d="M1073.2 1120.8h0"/><path d="M1132.5 1135.9h0"/><path d="M1018.8 1116.6h0"/><path d="M1157.5 1135.0h0"/><path d="M1186.2 1117.3h0"/><path d="M1129.2 1132.6h0"/><path d="M1059.6 1129.1h0"/><path d="M1066.5 1121.1h0"/><path d="M1034.8 1135.9h0"/><path d="M1061.3 1116.0h0"/><path d="M1144.5 1124.3h0"/><path d="M1077.8 1118.6h0"/><path d="M1120.4 1135.0h0"/><path d="M1193.8 1120.2h0"/><path d="M1166.0 1122.1h0"/><path d="M1054.2 1128.9h0"/><path d="M1076.0 1124.5h0"/><path d="M1052.1 1113.1h0"/><path d="M1046.4 1109.9h0"/><path d="M1030.2 1120.5h0"/><path d="M1075.2 1113.1h0"/><path d="M1164.1 1128.8h0"/><path d="M1078.5 1126.1h0"/><path d="M1077.8 1127.8h0"/><path d="M1192.2 1112.8h0"/><path d="M1136.2 1133.5h0"/><path d="M1104.2 1135.9h0"/><path d="M1214.2 1132.6h0"/><path d="M1060.9 1117.2h0"/><path d="M1037.0 1116.9h0"/><path d="M1098.3 1131.8h0"/><path d="M1044.2 1122.1h0"/><path d="M1214.9 1122.7h0"/><path d="M1190.6 1128.8h0"/><path d="M1211.9 1123.4h0"/><path d="M1091.9 1122.3h0"/><path d="M1193.7 1117.3h0"/><path d="M1047.7 1132.9h0"/><path d="M1043.1 1110.7h0"/><path d="M1055.3 1121.5h0"/><path d="M1009.2 1117.1h0"/><path d="M1073.7 1114.3h0"/><path d="M1154.3 1128.1h0"/><path d="M1079.1 1129.4h0"/><path d="M1211.3 1119.0h0"/><path d="M1157.8 1130.7h0"/><path d="M1083.0 1128.2h0"/><path d="M1192.6 1122.9h0"/><path d="M1063.4 1134.4h0"/><path d="M1135.1 1132.8h0"/><path d="M1120.3 1135.9h0"/><path d="M1080.9 1115.9h0"/><path d="M1213.3 1124.4h0"/><path d="M1192.4 1131.2h0"/><path d="M1152.7 1125.7h0"/><path d="M1105.4 1128.9h0"/><path d="M1094.6 1135.5h0"/><path d="M1143.0 1128.3h0"/><path d="M1223.3 1137.0h0"/><path d="M1127.3 1135.2h0"/><path d="M1051.1 1116.7h0"/><path d="M1067.3 1116.0h0"/><path d="M1196.1 1124.5h0"/><path d="M1168.3 1120.7h0"/><path d="M1047.5 1125.4h0"/><path d="M1079.6 1127.3h0"/><path d="M1039.5 1110.7h0"/><path d="M1184.2 1129.5h0"/><path d="M1159.2 1136.4h0"/><path d="M1074.8 1130.0h0"/><path d="M1070.5 1126.3h0"/><path d="M1218.8 1122.3h0"/><path d="M1148.8 1137.1h0"/><path d="M1079.4 1117.2h0"/><path d="M1188.0 1116.2h0"/><path d="M1203.0 1129.3h0"/><path d="M1211.2 1123.1h0"/><path d="M1221.4 1125.4h0"/><path d="M1035.9 1134.9h0"/><path d="M1073.6 1135.4h0"/><path d="M1097.4 1127.3h0"/><path d="M1153.4 1135.1h0"/><path d="M1085.4 1136.2h0"/><path d="M1101.5 1131.5h0"/><path d="M1094.9 1127.5h0"/><path d="M1063.2 1114.7h0"/><path d="M1155.7 1122.4h0"/><path d="M1238.3 1136.1h0"/><path d="M1044.0 1121.6h0"/><path d="M1021.9 1117.9h0"/><path d="M1099.7 1130.6h0"/><path d="M1092.3 1131.2h0"/><path d="M1164.5 1114.9h0"/><path d="M1170.6 1119.8h0"/><path d="M1076.4 1124.0h0"/><path d="M1071.8 1120.4h0"/><path d="M1207.4 1117.5h0"/><path d="M1166.9 1136.4h0"/><path d="M1043.4 1122.2h0"/><path d="M1009.7 1116.1h0"/><path d="M1007.6 1116.1h0"/><path d="M1005.3 1117.0h0"/><path d="M1005.6 1117.5h0"/><path d="M1014.2 1114.8h0"/><path d="M1026.6 1110.3h0"/><path d="M1022.9 1110.8h0"/><path d="M1026.9 1108.8h0"/><path d="M1024.1 1109.9h0"/><path d="M1018.5 1113.9h0"/><path d="M1024.0 1112.1h0"/><path d="M1031.3 1108.5h0"/><path d="M1031.5 1110.4h0"/><path d="M1034.2 1108.8h0"/><path d="M1041.1 1106.8h0"/><path d="M1044.2 1109.1h0"/><path d="M1040.0 1107.2h0"/><path d="M1035.8 1109.3h0"/><path d="M1032.1 1109.4h0"/><path d="M1044.0 1108.7h0"/><path d="M1061.3 1108.2h0"/><path d="M1058.1 1111.2h0"/><path d="M1045.4 1110.4h0"/><path d="M1048.2 1110.8h0"/><path d="M1059.9 1111.8h0"/><path d="M1059.7 1110.4h0"/><path d="M1051.1 1107.7h0"/><path d="M1064.8 1111.1h0"/><path d="M1061.4 1110.8h0"/><path d="M1060.8 1111.2h0"/><path d="M1066.2 1110.5h0"/><path d="M1072.8 1111.5h0"/><path d="M1069.4 1112.1h0"/><path d="M1069.1 1111.8h0"/><path d="M1075.2 1107.2h0"/><path d="M1084.2 1115.4h0"/><path d="M1087.0 1115.4h0"/><path d="M1083.4 1114.8h0"/><path d="M1081.0 1114.9h0"/><path d="M1086.1 1116.3h0"/><path d="M1089.0 1116.5h0"/><path d="M1091.7 1119.8h0"/><path d="M1095.4 1119.3h0"/><path d="M1092.9 1120.0h0"/><path d="M1088.2 1117.2h0"/><path d="M1102.0 1124.0h0"/><path d="M1100.3 1120.6h0"/><path d="M1102.2 1118.8h0"/><path d="M1106.6 1127.0h0"/><path d="M1098.6 1123.1h0"/><path d="M1140.9 1121.2h0"/><path d="M1147.1 1119.9h0"/><path d="M1148.9 1119.0h0"/><path d="M1146.4 1119.1h0"/><path d="M1145.8 1120.4h0"/><path d="M1153.2 1110.6h0"/><path d="M1148.9 1119.0h0"/><path d="M1156.5 1117.0h0"/><path d="M1153.0 1115.6h0"/><path d="M1165.6 1114.3h0"/><path d="M1162.0 1112.0h0"/><path d="M1167.1 1106.4h0"/><path d="M1165.9 1111.2h0"/><path d="M1169.7 1105.9h0"/><path d="M1167.4 1112.9h0"/><path d="M1169.3 1107.4h0"/><path d="M1179.3 1111.5h0"/><path d="M1171.6 1112.5h0"/><path d="M1178.9 1111.2h0"/><path d="M1179.9 1110.1h0"/><path d="M1194.4 1109.9h0"/><path d="M1189.5 1109.1h0"/><path d="M1192.0 1108.4h0"/><path d="M1187.4 1112.4h0"/><path d="M1190.1 1110.7h0"/><path d="M1184.6 1110.1h0"/><path d="M1183.4 1105.1h0"/><path d="M1201.7 1110.5h0"/><path d="M1209.2 1110.5h0"/><path d="M1198.5 1110.6h0"/><path d="M1204.4 1110.9h0"/><path d="M1197.7 1110.7h0"/><path d="M1195.8 1109.7h0"/><path d="M1214.0 1111.4h0"/><path d="M1216.1 1112.7h0"/><path d="M1213.5 1110.4h0"/><path d="M1215.7 1110.4h0"/><path d="M1222.3 1106.5h0"/><path d="M1218.7 1110.1h0"/><path d="M1017.0 1120.8h0"/><path d="M1022.1 1123.2h0"/><path d="M1023.6 1121.3h0"/><path d="M1003.3 1128.1h0"/><path d="M1006.8 1126.2h0"/><path d="M1002.0 1126.0h0"/><path d="M1005.1 1120.8h0"/><path d="M1021.6 1123.1h0"/><path d="M1010.5 1123.7h0"/><path d="M1026.1 1122.8h0"/><path d="M1017.7 1123.0h0"/><path d="M1004.3 1128.1h0"/><path d="M1005.4 1124.6h0"/><path d="M1025.3 1130.0h0"/><path d="M1008.6 1124.1h0"/><path d="M1224.9 1119.3h0"/><path d="M1226.2 1126.0h0"/><path d="M1237.8 1112.0h0"/><path d="M1224.3 1125.7h0"/><path d="M1227.5 1125.7h0"/><path d="M1241.3 1121.1h0"/><path d="M1247.8 1123.1h0"/><path d="M1239.6 1119.0h0"/><path d="M1230.2 1113.8h0"/><path d="M1235.3 1118.5h0"/><path d="M1245.4 1116.4h0"/><path d="M1234.6 1129.9h0"/><path d="M1241.0 1124.2h0"/><path d="M1242.9 1129.2h0"/><path d="M1229.0 1126.4h0"/><path d="M1224.9 1116.1h0"/><path d="M1240.3 1117.4h0"/><path d="M1237.1 1115.4h0"/><path d="M1230.4 1119.7h0"/><path d="M1240.7 1124.9h0"/><path d="M1237.5 1118.6h0"/><path d="M1238.9 1121.8h0"/><path d="M1227.3 1115.0h0"/><path d="M1225.5 1129.8h0"/><path d="M1243.1 1118.5h0"/><path d="M1242.3 1119.7h0"/><path d="M1228.6 1119.5h0"/><path d="M1243.8 1114.2h0"/><path d="M1235.8 1130.3h0"/><path d="M1226.0 1119.1h0"/><path d="M1247.8 1124.0h0"/><path d="M1241.8 1115.6h0"/><path d="M1234.8 1121.5h0"/><path d="M1248.3 1124.4h0"/><path d="M1233.8 1128.6h0"/><path d="M1240.8 1125.5h0"/><path d="M1228.0 1116.3h0"/><path d="M1002.0 1136.2h0"/><path d="M1004.5 1136.2h0"/><path d="M1007.0 1136.2h0"/><path d="M1009.5 1136.2h0"/><path d="M1012.0 1136.2h0"/><path d="M1014.5 1136.2h0"/><path d="M1017.0 1136.2h0"/><path d="M1019.5 1136.2h0"/><path d="M1022.0 1136.2h0"/><path d="M1024.5 1136.2h0"/><path d="M1027.0 1136.2h0"/><path d="M1029.5 1136.2h0"/><path d="M1032.0 1136.2h0"/><path d="M1034.5 1136.2h0"/><path d="M1037.0 1136.2h0"/><path d="M1039.5 1136.2h0"/><path d="M1042.0 1136.2h0"/><path d="M1044.5 1136.2h0"/><path d="M1047.0 1136.2h0"/><path d="M1049.5 1136.2h0"/><path d="M1052.0 1136.2h0"/><path d="M1054.5 1136.2h0"/><path d="M1057.0 1136.2h0"/><path d="M1059.5 1136.2h0"/><path d="M1062.0 1136.2h0"/><path d="M1064.5 1136.2h0"/><path d="M1067.0 1136.2h0"/><path d="M1069.5 1136.2h0"/><path d="M1072.0 1136.2h0"/><path d="M1074.5 1136.2h0"/><path d="M1077.0 1136.2h0"/><path d="M1079.5 1136.2h0"/><path d="M1082.0 1136.2h0"/><path d="M1084.5 1136.2h0"/><path d="M1087.0 1136.2h0"/><path d="M1089.5 1136.2h0"/><path d="M1092.0 1136.2h0"/><path d="M1094.5 1136.2h0"/><path d="M1097.0 1136.2h0"/><path d="M1099.5 1136.2h0"/><path d="M1102.0 1136.2h0"/><path d="M1104.5 1136.2h0"/><path d="M1107.0 1136.2h0"/><path d="M1109.5 1136.2h0"/><path d="M1112.0 1136.2h0"/><path d="M1114.5 1136.2h0"/><path d="M1117.0 1136.2h0"/><path d="M1119.5 1136.2h0"/><path d="M1122.0 1136.2h0"/><path d="M1124.5 1136.2h0"/><path d="M1127.0 1136.2h0"/><path d="M1129.5 1136.2h0"/><path d="M1132.0 1136.2h0"/><path d="M1134.5 1136.2h0"/><path d="M1137.0 1136.2h0"/><path d="M1139.5 1136.2h0"/><path d="M1142.0 1136.2h0"/><path d="M1144.5 1136.2h0"/><path d="M1147.0 1136.2h0"/><path d="M1149.5 1136.2h0"/><path d="M1152.0 1136.2h0"/><path d="M1154.5 1136.2h0"/><path d="M1157.0 1136.2h0"/><path d="M1159.5 1136.2h0"/><path d="M1162.0 1136.2h0"/><path d="M1164.5 1136.2h0"/><path d="M1167.0 1136.2h0"/><path d="M1169.5 1136.2h0"/><path d="M1172.0 1136.2h0"/><path d="M1174.5 1136.2h0"/><path d="M1177.0 1136.2h0"/><path d="M1179.5 1136.2h0"/><path d="M1182.0 1136.2h0"/><path d="M1184.5 1136.2h0"/><path d="M1187.0 1136.2h0"/><path d="M1189.5 1136.2h0"/><path d="M1192.0 1136.2h0"/><path d="M1194.5 1136.2h0"/><path d="M1197.0 1136.2h0"/><path d="M1199.5 1136.2h0"/><path d="M1202.0 1136.2h0"/><path d="M1204.5 1136.2h0"/><path d="M1207.0 1136.2h0"/><path d="M1209.5 1136.2h0"/><path d="M1212.0 1136.2h0"/><path d="M1214.5 1136.2h0"/><path d="M1217.0 1136.2h0"/><path d="M1219.5 1136.2h0"/><path d="M1222.0 1136.2h0"/><path d="M1224.5 1136.2h0"/><path d="M1227.0 1136.2h0"/><path d="M1229.5 1136.2h0"/><path d="M1232.0 1136.2h0"/><path d="M1234.5 1136.2h0"/><path d="M1237.0 1136.2h0"/><path d="M1239.5 1136.2h0"/><path d="M1242.0 1136.2h0"/><path d="M1012.6 1059.9h0"/><path d="M1028.9 1069.7h0"/><path d="M983.8 1092.0h0"/><path d="M995.0 1093.0h0"/><path d="M1012.8 1071.3h0"/><path d="M1029.3 1071.3h0"/><path d="M1052.7 1082.1h0"/><path d="M1008.5 1082.1h0"/><path d="M988.5 1122.4h0"/><path d="M1004.1 1127.2h0"/><path d="M1016.3 1127.6h0"/><path d="M1020.6 1128.5h0"/><path d="M995.5 1115.5h0"/><path d="M1018.0 1105.1h0"/><path d="M1030.0 1108.5h0"/><path d="M1037.0 1108.5h0"/><path d="M1044.0 1099.0h0"/><path d="M1050.0 1094.7h0"/><path d="M1057.0 1094.7h0"/><path d="M1051.8 1106.8h0"/><path d="M1004.0 1136.3h0"/><path d="M1014.5 1136.3h0"/><path d="M1019.7 1136.3h0"/><path d="M1286.1 1085.7h0"/><path d="M1282.9 1099.7h0"/><path d="M1289.9 1104.9h0"/><path d="M1255.3 1090.4h0"/><path d="M1232.0 1102.5h0"/><path d="M1252.1 1123.1h0"/><path d="M1246.0 1114.7h0"/><path d="M1241.3 1114.7h0"/><path d="M1233.9 1117.5h0"/><path d="M1229.2 1117.5h0"/><path d="M1218.0 1112.8h0"/><path d="M1224.5 1095.1h0"/><path d="M1218.9 1094.1h0"/><path d="M1214.3 1125.9h0"/><path d="M1247.9 1135.7h0"/><path d="M1256.3 1135.7h0"/><path d="M1270.3 1134.7h0"/><path d="M1276.8 1132.4h0"/></g></g>
<rect x="830.0" y="658.0" width="666.40" height="499.60" fill="none" stroke="#333333" stroke-width="1.8"/>
<line x1="949.94" y1="1157.6" x2="949.94" y2="1163.80" stroke="#333333" stroke-width="2.6"/>
<line x1="1120.80" y1="1157.6" x2="1120.80" y2="1163.80" stroke="#333333" stroke-width="2.6"/>
<line x1="1291.66" y1="1157.6" x2="1291.66" y2="1163.80" stroke="#333333" stroke-width="2.6"/>
<line x1="1462.52" y1="1157.6" x2="1462.52" y2="1163.80" stroke="#333333" stroke-width="2.6"/>
<line x1="823.80" y1="1135.90" x2="830.0" y2="1135.90" stroke="#333333" stroke-width="2.6"/>
<line x1="823.80" y1="962.10" x2="830.0" y2="962.10" stroke="#333333" stroke-width="2.6"/>
<line x1="823.80" y1="788.30" x2="830.0" y2="788.30" stroke="#333333" stroke-width="2.6"/>
<text x="30.67" y="193.63" font-size="28" fill="#4d4d4d" text-anchor="start" >100</text>
<text x="40.48" y="359.83" font-size="28" fill="#4d4d4d" text-anchor="start" >50</text>
<text x="50.81" y="526.43" font-size="28" fill="#4d4d4d" text-anchor="start" >0</text>
<text x="788.69" y="72.03" font-size="28" fill="#4d4d4d" text-anchor="start" >20</text>
<text x="788.67" y="186.33" font-size="28" fill="#4d4d4d" text-anchor="start" >15</text>
<text x="788.67" y="299.83" font-size="28" fill="#4d4d4d" text-anchor="start" >10</text>
<text x="799.98" y="415.03" font-size="28" fill="#4d4d4d" text-anchor="start" >5</text>
<text x="799.61" y="528.13" font-size="28" fill="#4d4d4d" text-anchor="start" >0</text>
<text x="35.46" y="804.13" font-size="28" fill="#4d4d4d" text-anchor="start" >40</text>
<text x="34.69" y="975.23" font-size="28" fill="#4d4d4d" text-anchor="start" >20</text>
<text x="45.71" y="1145.93" font-size="28" fill="#4d4d4d" text-anchor="start" >0</text>
<text x="783.09" y="796.53" font-size="28" fill="#4d4d4d" text-anchor="start" >20</text>
<text x="783.27" y="970.23" font-size="28" fill="#4d4d4d" text-anchor="start" >10</text>
<text x="792.81" y="1144.63" font-size="28" fill="#4d4d4d" text-anchor="start" >0</text>
<text x="280.80" y="565.80" font-size="18.5" fill="#4d4d4d" text-anchor="middle" >−2</text>
<text x="501.85" y="565.80" font-size="18.5" fill="#4d4d4d" text-anchor="middle" >0</text>
<text x="722.90" y="565.80" font-size="18.5" fill="#4d4d4d" text-anchor="middle" >2</text>
<text x="829.70" y="565.90" font-size="18.5" fill="#4d4d4d" text-anchor="middle" >−2</text>
<text x="968.50" y="565.90" font-size="18.5" fill="#4d4d4d" text-anchor="middle" >−1</text>
<text x="1107.30" y="565.90" font-size="18.5" fill="#4d4d4d" text-anchor="middle" >0</text>
<text x="1246.10" y="565.90" font-size="18.5" fill="#4d4d4d" text-anchor="middle" >1</text>
<text x="1384.90" y="565.90" font-size="18.5" fill="#4d4d4d" text-anchor="middle" >2</text>
<text x="152.20" y="1182.10" font-size="18.5" fill="#4d4d4d" text-anchor="middle" >−2</text>
<text x="292.10" y="1182.10" font-size="18.5" fill="#4d4d4d" text-anchor="middle" >−1</text>
<text x="432.00" y="1182.10" font-size="18.5" fill="#4d4d4d" text-anchor="middle" >0</text>
<text x="571.90" y="1182.10" font-size="18.5" fill="#4d4d4d" text-anchor="middle" >1</text>
<text x="711.80" y="1182.10" font-size="18.5" fill="#4d4d4d" text-anchor="middle" >2</text>
<text x="949.94" y="1181.80" font-size="18.5" fill="#4d4d4d" text-anchor="middle" >−1</text>
<text x="1120.80" y="1181.80" font-size="18.5" fill="#4d4d4d" text-anchor="middle" >0</text>
<text x="1291.66" y="1181.80" font-size="18.5" fill="#4d4d4d" text-anchor="middle" >1</text>
<text x="1462.52" y="1181.80" font-size="18.5" fill="#4d4d4d" text-anchor="middle" >2</text>
<text x="86.41" y="22.00" font-size="27" fill="#000" text-anchor="start" textLength="43.6" lengthAdjust="spacingAndGlyphs">Sex</text>
<text x="828.42" y="21.80" font-size="26" fill="#000" text-anchor="start" >Smoking</text>
<text x="75.36" y="638.20" font-size="26.1" fill="#000" text-anchor="start" >Body mass</text>
<text x="827.79" y="637.90" font-size="25.75" fill="#000" text-anchor="start" >Physical activity</text>
<text x="415.90" y="591.80" font-size="22" fill="#000" text-anchor="middle" >log2FoldChange</text>
<text x="1163.10" y="591.90" font-size="22" fill="#000" text-anchor="middle" >log2FoldChange</text>
<text x="411.05" y="1208.10" font-size="22" fill="#000" text-anchor="middle" >log2FoldChange</text>
<text x="1163.20" y="1207.80" font-size="22" fill="#000" text-anchor="middle" >log2FoldChange</text>
<text transform="translate(19.0,290.4) rotate(-90)" font-size="22" fill="#000" text-anchor="middle">−log10(padj)</text>
<text transform="translate(768.0,293.3) rotate(-90)" font-size="22" fill="#000" text-anchor="middle">−log10(padj)</text>
<text transform="translate(19.0,910.0) rotate(-90)" font-size="22" fill="#000" text-anchor="middle">−log10(padj)</text>
<text transform="translate(774.0,908.3) rotate(-90)" font-size="22" fill="#000" text-anchor="middle">−log10(padj)</text>
<circle cx="535" cy="1292.7" r="7.4" fill="#cf7466"/>
<circle cx="845.2" cy="1292.8" r="7.4" fill="#3a9fb3"/>
<text x="571.09" y="1303.40" font-size="29.5" fill="#1a1a1a" text-anchor="start" >unadjusted</text>
<text x="885.98" y="1303.40" font-size="28.7" fill="#1a1a1a" text-anchor="start" >adjusted for age</text>
</svg>
</body></html>
